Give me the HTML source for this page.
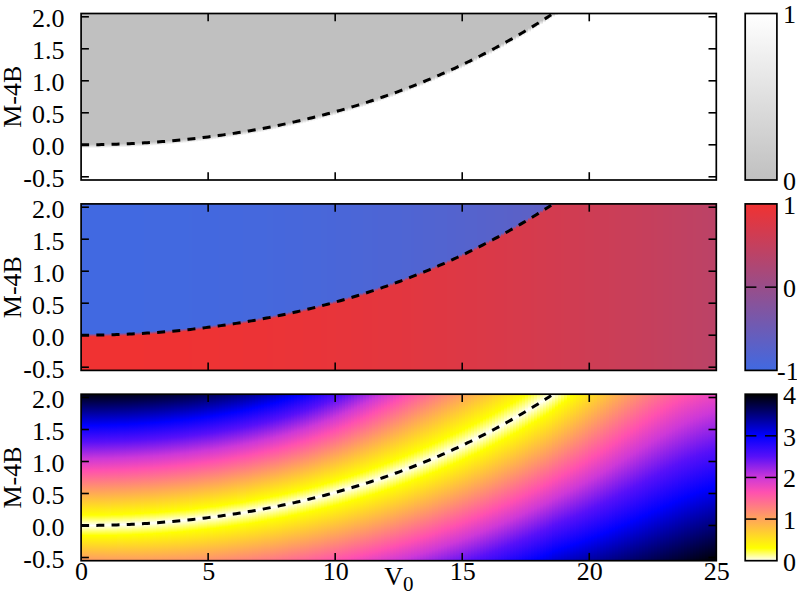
<!DOCTYPE html>
<html><head><meta charset="utf-8"><title>phase diagram</title>
<style>
html,body{margin:0;padding:0;background:#fff}
body{width:797px;height:598px;position:relative;overflow:hidden;font-family:"Liberation Serif",serif}
.hm{position:absolute;overflow:hidden}
.hm i{position:absolute;top:0;height:100%;width:3px;display:block}
svg{position:absolute;left:0;top:0}
svg text{font-family:"Liberation Serif",serif;fill:#000}
</style></head><body>
<div class="hm" style="left:81px;top:14px;width:636px;height:166px"><i style="left:0px;background:linear-gradient(#c0c0c0 0.0px,#c0c0c0 130.3px,#ffffff 134.3px,#ffffff 166.0px)"></i><i style="left:3px;background:linear-gradient(#c0c0c0 0.0px,#c0c0c0 130.3px,#ffffff 134.3px,#ffffff 166.0px)"></i><i style="left:6px;background:linear-gradient(#c0c0c0 0.0px,#c0c0c0 130.3px,#ffffff 134.3px,#ffffff 166.0px)"></i><i style="left:9px;background:linear-gradient(#c0c0c0 0.0px,#c0c0c0 130.2px,#ffffff 134.2px,#ffffff 166.0px)"></i><i style="left:12px;background:linear-gradient(#c0c0c0 0.0px,#c0c0c0 130.2px,#ffffff 134.2px,#ffffff 166.0px)"></i><i style="left:15px;background:linear-gradient(#c0c0c0 0.0px,#c0c0c0 130.2px,#ffffff 134.2px,#ffffff 166.0px)"></i><i style="left:18px;background:linear-gradient(#c0c0c0 0.0px,#c0c0c0 130.1px,#ffffff 134.1px,#ffffff 166.0px)"></i><i style="left:21px;background:linear-gradient(#c0c0c0 0.0px,#c0c0c0 130.1px,#ffffff 134.1px,#ffffff 166.0px)"></i><i style="left:24px;background:linear-gradient(#c0c0c0 0.0px,#c0c0c0 130.0px,#ffffff 134.0px,#ffffff 166.0px)"></i><i style="left:27px;background:linear-gradient(#c0c0c0 0.0px,#c0c0c0 129.9px,#ffffff 133.9px,#ffffff 166.0px)"></i><i style="left:30px;background:linear-gradient(#c0c0c0 0.0px,#c0c0c0 129.8px,#ffffff 133.8px,#ffffff 166.0px)"></i><i style="left:33px;background:linear-gradient(#c0c0c0 0.0px,#c0c0c0 129.7px,#ffffff 133.7px,#ffffff 166.0px)"></i><i style="left:36px;background:linear-gradient(#c0c0c0 0.0px,#c0c0c0 129.6px,#ffffff 133.6px,#ffffff 166.0px)"></i><i style="left:39px;background:linear-gradient(#c0c0c0 0.0px,#c0c0c0 129.5px,#ffffff 133.5px,#ffffff 166.0px)"></i><i style="left:42px;background:linear-gradient(#c0c0c0 0.0px,#c0c0c0 129.4px,#ffffff 133.4px,#ffffff 166.0px)"></i><i style="left:45px;background:linear-gradient(#c0c0c0 0.0px,#c0c0c0 129.3px,#ffffff 133.3px,#ffffff 166.0px)"></i><i style="left:48px;background:linear-gradient(#c0c0c0 0.0px,#c0c0c0 129.1px,#ffffff 133.1px,#ffffff 166.0px)"></i><i style="left:51px;background:linear-gradient(#c0c0c0 0.0px,#c0c0c0 129.0px,#ffffff 133.0px,#ffffff 166.0px)"></i><i style="left:54px;background:linear-gradient(#c0c0c0 0.0px,#c0c0c0 128.8px,#ffffff 132.8px,#ffffff 166.0px)"></i><i style="left:57px;background:linear-gradient(#c0c0c0 0.0px,#c0c0c0 128.7px,#ffffff 132.7px,#ffffff 166.0px)"></i><i style="left:60px;background:linear-gradient(#c0c0c0 0.0px,#c0c0c0 128.5px,#ffffff 132.5px,#ffffff 166.0px)"></i><i style="left:63px;background:linear-gradient(#c0c0c0 0.0px,#c0c0c0 128.3px,#ffffff 132.3px,#ffffff 166.0px)"></i><i style="left:66px;background:linear-gradient(#c0c0c0 0.0px,#c0c0c0 128.1px,#ffffff 132.1px,#ffffff 166.0px)"></i><i style="left:69px;background:linear-gradient(#c0c0c0 0.0px,#c0c0c0 127.9px,#ffffff 131.9px,#ffffff 166.0px)"></i><i style="left:72px;background:linear-gradient(#c0c0c0 0.0px,#c0c0c0 127.7px,#ffffff 131.7px,#ffffff 166.0px)"></i><i style="left:75px;background:linear-gradient(#c0c0c0 0.0px,#c0c0c0 127.5px,#ffffff 131.5px,#ffffff 166.0px)"></i><i style="left:78px;background:linear-gradient(#c0c0c0 0.0px,#c0c0c0 127.3px,#ffffff 131.3px,#ffffff 166.0px)"></i><i style="left:81px;background:linear-gradient(#c0c0c0 0.0px,#c0c0c0 127.0px,#ffffff 131.0px,#ffffff 166.0px)"></i><i style="left:84px;background:linear-gradient(#c0c0c0 0.0px,#c0c0c0 126.8px,#ffffff 130.8px,#ffffff 166.0px)"></i><i style="left:87px;background:linear-gradient(#c0c0c0 0.0px,#c0c0c0 126.5px,#ffffff 130.5px,#ffffff 166.0px)"></i><i style="left:90px;background:linear-gradient(#c0c0c0 0.0px,#c0c0c0 126.3px,#ffffff 130.3px,#ffffff 166.0px)"></i><i style="left:93px;background:linear-gradient(#c0c0c0 0.0px,#c0c0c0 126.0px,#ffffff 130.0px,#ffffff 166.0px)"></i><i style="left:96px;background:linear-gradient(#c0c0c0 0.0px,#c0c0c0 125.7px,#ffffff 129.7px,#ffffff 166.0px)"></i><i style="left:99px;background:linear-gradient(#c0c0c0 0.0px,#c0c0c0 125.4px,#ffffff 129.4px,#ffffff 166.0px)"></i><i style="left:102px;background:linear-gradient(#c0c0c0 0.0px,#c0c0c0 125.1px,#ffffff 129.1px,#ffffff 166.0px)"></i><i style="left:105px;background:linear-gradient(#c0c0c0 0.0px,#c0c0c0 124.8px,#ffffff 128.8px,#ffffff 166.0px)"></i><i style="left:108px;background:linear-gradient(#c0c0c0 0.0px,#c0c0c0 124.5px,#ffffff 128.5px,#ffffff 166.0px)"></i><i style="left:111px;background:linear-gradient(#c0c0c0 0.0px,#c0c0c0 124.1px,#ffffff 128.1px,#ffffff 166.0px)"></i><i style="left:114px;background:linear-gradient(#c0c0c0 0.0px,#c0c0c0 123.8px,#ffffff 127.8px,#ffffff 166.0px)"></i><i style="left:117px;background:linear-gradient(#c0c0c0 0.0px,#c0c0c0 123.5px,#ffffff 127.5px,#ffffff 166.0px)"></i><i style="left:120px;background:linear-gradient(#c0c0c0 0.0px,#c0c0c0 123.1px,#ffffff 127.1px,#ffffff 166.0px)"></i><i style="left:123px;background:linear-gradient(#c0c0c0 0.0px,#c0c0c0 122.7px,#ffffff 126.7px,#ffffff 166.0px)"></i><i style="left:126px;background:linear-gradient(#c0c0c0 0.0px,#c0c0c0 122.4px,#ffffff 126.4px,#ffffff 166.0px)"></i><i style="left:129px;background:linear-gradient(#c0c0c0 0.0px,#c0c0c0 122.0px,#ffffff 126.0px,#ffffff 166.0px)"></i><i style="left:132px;background:linear-gradient(#c0c0c0 0.0px,#c0c0c0 121.6px,#ffffff 125.6px,#ffffff 166.0px)"></i><i style="left:135px;background:linear-gradient(#c0c0c0 0.0px,#c0c0c0 121.2px,#ffffff 125.2px,#ffffff 166.0px)"></i><i style="left:138px;background:linear-gradient(#c0c0c0 0.0px,#c0c0c0 120.8px,#ffffff 124.8px,#ffffff 166.0px)"></i><i style="left:141px;background:linear-gradient(#c0c0c0 0.0px,#c0c0c0 120.4px,#ffffff 124.4px,#ffffff 166.0px)"></i><i style="left:144px;background:linear-gradient(#c0c0c0 0.0px,#c0c0c0 119.9px,#ffffff 123.9px,#ffffff 166.0px)"></i><i style="left:147px;background:linear-gradient(#c0c0c0 0.0px,#c0c0c0 119.5px,#ffffff 123.5px,#ffffff 166.0px)"></i><i style="left:150px;background:linear-gradient(#c0c0c0 0.0px,#c0c0c0 119.0px,#ffffff 123.0px,#ffffff 166.0px)"></i><i style="left:153px;background:linear-gradient(#c0c0c0 0.0px,#c0c0c0 118.6px,#ffffff 122.6px,#ffffff 166.0px)"></i><i style="left:156px;background:linear-gradient(#c0c0c0 0.0px,#c0c0c0 118.1px,#ffffff 122.1px,#ffffff 166.0px)"></i><i style="left:159px;background:linear-gradient(#c0c0c0 0.0px,#c0c0c0 117.6px,#ffffff 121.6px,#ffffff 166.0px)"></i><i style="left:162px;background:linear-gradient(#c0c0c0 0.0px,#c0c0c0 117.1px,#ffffff 121.1px,#ffffff 166.0px)"></i><i style="left:165px;background:linear-gradient(#c0c0c0 0.0px,#c0c0c0 116.6px,#ffffff 120.6px,#ffffff 166.0px)"></i><i style="left:168px;background:linear-gradient(#c0c0c0 0.0px,#c0c0c0 116.1px,#ffffff 120.1px,#ffffff 166.0px)"></i><i style="left:171px;background:linear-gradient(#c0c0c0 0.0px,#c0c0c0 115.6px,#ffffff 119.6px,#ffffff 166.0px)"></i><i style="left:174px;background:linear-gradient(#c0c0c0 0.0px,#c0c0c0 115.1px,#ffffff 119.1px,#ffffff 166.0px)"></i><i style="left:177px;background:linear-gradient(#c0c0c0 0.0px,#c0c0c0 114.5px,#ffffff 118.5px,#ffffff 166.0px)"></i><i style="left:180px;background:linear-gradient(#c0c0c0 0.0px,#c0c0c0 114.0px,#ffffff 118.0px,#ffffff 166.0px)"></i><i style="left:183px;background:linear-gradient(#c0c0c0 0.0px,#c0c0c0 113.4px,#ffffff 117.4px,#ffffff 166.0px)"></i><i style="left:186px;background:linear-gradient(#c0c0c0 0.0px,#c0c0c0 112.8px,#ffffff 116.8px,#ffffff 166.0px)"></i><i style="left:189px;background:linear-gradient(#c0c0c0 0.0px,#c0c0c0 112.2px,#ffffff 116.2px,#ffffff 166.0px)"></i><i style="left:192px;background:linear-gradient(#c0c0c0 0.0px,#c0c0c0 111.6px,#ffffff 115.6px,#ffffff 166.0px)"></i><i style="left:195px;background:linear-gradient(#c0c0c0 0.0px,#c0c0c0 111.0px,#ffffff 115.0px,#ffffff 166.0px)"></i><i style="left:198px;background:linear-gradient(#c0c0c0 0.0px,#c0c0c0 110.4px,#ffffff 114.4px,#ffffff 166.0px)"></i><i style="left:201px;background:linear-gradient(#c0c0c0 0.0px,#c0c0c0 109.8px,#ffffff 113.8px,#ffffff 166.0px)"></i><i style="left:204px;background:linear-gradient(#c0c0c0 0.0px,#c0c0c0 109.2px,#ffffff 113.2px,#ffffff 166.0px)"></i><i style="left:207px;background:linear-gradient(#c0c0c0 0.0px,#c0c0c0 108.5px,#ffffff 112.5px,#ffffff 166.0px)"></i><i style="left:210px;background:linear-gradient(#c0c0c0 0.0px,#c0c0c0 107.8px,#ffffff 111.8px,#ffffff 166.0px)"></i><i style="left:213px;background:linear-gradient(#c0c0c0 0.0px,#c0c0c0 107.2px,#ffffff 111.2px,#ffffff 166.0px)"></i><i style="left:216px;background:linear-gradient(#c0c0c0 0.0px,#c0c0c0 106.5px,#ffffff 110.5px,#ffffff 166.0px)"></i><i style="left:219px;background:linear-gradient(#c0c0c0 0.0px,#c0c0c0 105.8px,#ffffff 109.8px,#ffffff 166.0px)"></i><i style="left:222px;background:linear-gradient(#c0c0c0 0.0px,#c0c0c0 105.1px,#ffffff 109.1px,#ffffff 166.0px)"></i><i style="left:225px;background:linear-gradient(#c0c0c0 0.0px,#c0c0c0 104.4px,#ffffff 108.4px,#ffffff 166.0px)"></i><i style="left:228px;background:linear-gradient(#c0c0c0 0.0px,#c0c0c0 103.7px,#ffffff 107.7px,#ffffff 166.0px)"></i><i style="left:231px;background:linear-gradient(#c0c0c0 0.0px,#c0c0c0 102.9px,#ffffff 106.9px,#ffffff 166.0px)"></i><i style="left:234px;background:linear-gradient(#c0c0c0 0.0px,#c0c0c0 102.2px,#ffffff 106.2px,#ffffff 166.0px)"></i><i style="left:237px;background:linear-gradient(#c0c0c0 0.0px,#c0c0c0 101.4px,#ffffff 105.4px,#ffffff 166.0px)"></i><i style="left:240px;background:linear-gradient(#c0c0c0 0.0px,#c0c0c0 100.6px,#ffffff 104.6px,#ffffff 166.0px)"></i><i style="left:243px;background:linear-gradient(#c0c0c0 0.0px,#c0c0c0 99.9px,#ffffff 103.9px,#ffffff 166.0px)"></i><i style="left:246px;background:linear-gradient(#c0c0c0 0.0px,#c0c0c0 99.1px,#ffffff 103.1px,#ffffff 166.0px)"></i><i style="left:249px;background:linear-gradient(#c0c0c0 0.0px,#c0c0c0 98.2px,#ffffff 102.2px,#ffffff 166.0px)"></i><i style="left:252px;background:linear-gradient(#c0c0c0 0.0px,#c0c0c0 97.4px,#ffffff 101.4px,#ffffff 166.0px)"></i><i style="left:255px;background:linear-gradient(#c0c0c0 0.0px,#c0c0c0 96.6px,#ffffff 100.6px,#ffffff 166.0px)"></i><i style="left:258px;background:linear-gradient(#c0c0c0 0.0px,#c0c0c0 95.8px,#ffffff 99.8px,#ffffff 166.0px)"></i><i style="left:261px;background:linear-gradient(#c0c0c0 0.0px,#c0c0c0 94.9px,#ffffff 98.9px,#ffffff 166.0px)"></i><i style="left:264px;background:linear-gradient(#c0c0c0 0.0px,#c0c0c0 94.0px,#ffffff 98.0px,#ffffff 166.0px)"></i><i style="left:267px;background:linear-gradient(#c0c0c0 0.0px,#c0c0c0 93.1px,#ffffff 97.1px,#ffffff 166.0px)"></i><i style="left:270px;background:linear-gradient(#c0c0c0 0.0px,#c0c0c0 92.3px,#ffffff 96.3px,#ffffff 166.0px)"></i><i style="left:273px;background:linear-gradient(#c0c0c0 0.0px,#c0c0c0 91.3px,#ffffff 95.3px,#ffffff 166.0px)"></i><i style="left:276px;background:linear-gradient(#c0c0c0 0.0px,#c0c0c0 90.4px,#ffffff 94.4px,#ffffff 166.0px)"></i><i style="left:279px;background:linear-gradient(#c0c0c0 0.0px,#c0c0c0 89.5px,#ffffff 93.5px,#ffffff 166.0px)"></i><i style="left:282px;background:linear-gradient(#c0c0c0 0.0px,#c0c0c0 88.6px,#ffffff 92.6px,#ffffff 166.0px)"></i><i style="left:285px;background:linear-gradient(#c0c0c0 0.0px,#c0c0c0 87.6px,#ffffff 91.6px,#ffffff 166.0px)"></i><i style="left:288px;background:linear-gradient(#c0c0c0 0.0px,#c0c0c0 86.6px,#ffffff 90.6px,#ffffff 166.0px)"></i><i style="left:291px;background:linear-gradient(#c0c0c0 0.0px,#c0c0c0 85.6px,#ffffff 89.6px,#ffffff 166.0px)"></i><i style="left:294px;background:linear-gradient(#c0c0c0 0.0px,#c0c0c0 84.6px,#ffffff 88.6px,#ffffff 166.0px)"></i><i style="left:297px;background:linear-gradient(#c0c0c0 0.0px,#c0c0c0 83.6px,#ffffff 87.6px,#ffffff 166.0px)"></i><i style="left:300px;background:linear-gradient(#c0c0c0 0.0px,#c0c0c0 82.6px,#ffffff 86.6px,#ffffff 166.0px)"></i><i style="left:303px;background:linear-gradient(#c0c0c0 0.0px,#c0c0c0 81.6px,#ffffff 85.6px,#ffffff 166.0px)"></i><i style="left:306px;background:linear-gradient(#c0c0c0 0.0px,#c0c0c0 80.5px,#ffffff 84.5px,#ffffff 166.0px)"></i><i style="left:309px;background:linear-gradient(#c0c0c0 0.0px,#c0c0c0 79.5px,#ffffff 83.5px,#ffffff 166.0px)"></i><i style="left:312px;background:linear-gradient(#c0c0c0 0.0px,#c0c0c0 78.4px,#ffffff 82.4px,#ffffff 166.0px)"></i><i style="left:315px;background:linear-gradient(#c0c0c0 0.0px,#c0c0c0 77.3px,#ffffff 81.3px,#ffffff 166.0px)"></i><i style="left:318px;background:linear-gradient(#c0c0c0 0.0px,#c0c0c0 76.2px,#ffffff 80.2px,#ffffff 166.0px)"></i><i style="left:321px;background:linear-gradient(#c0c0c0 0.0px,#c0c0c0 75.1px,#ffffff 79.1px,#ffffff 166.0px)"></i><i style="left:324px;background:linear-gradient(#c0c0c0 0.0px,#c0c0c0 73.9px,#ffffff 77.9px,#ffffff 166.0px)"></i><i style="left:327px;background:linear-gradient(#c0c0c0 0.0px,#c0c0c0 72.8px,#ffffff 76.8px,#ffffff 166.0px)"></i><i style="left:330px;background:linear-gradient(#c0c0c0 0.0px,#c0c0c0 71.6px,#ffffff 75.6px,#ffffff 166.0px)"></i><i style="left:333px;background:linear-gradient(#c0c0c0 0.0px,#c0c0c0 70.5px,#ffffff 74.5px,#ffffff 166.0px)"></i><i style="left:336px;background:linear-gradient(#c0c0c0 0.0px,#c0c0c0 69.3px,#ffffff 73.3px,#ffffff 166.0px)"></i><i style="left:339px;background:linear-gradient(#c0c0c0 0.0px,#c0c0c0 68.1px,#ffffff 72.1px,#ffffff 166.0px)"></i><i style="left:342px;background:linear-gradient(#c0c0c0 0.0px,#c0c0c0 66.8px,#ffffff 70.8px,#ffffff 166.0px)"></i><i style="left:345px;background:linear-gradient(#c0c0c0 0.0px,#c0c0c0 65.6px,#ffffff 69.6px,#ffffff 166.0px)"></i><i style="left:348px;background:linear-gradient(#c0c0c0 0.0px,#c0c0c0 64.4px,#ffffff 68.4px,#ffffff 166.0px)"></i><i style="left:351px;background:linear-gradient(#c0c0c0 0.0px,#c0c0c0 63.1px,#ffffff 67.1px,#ffffff 166.0px)"></i><i style="left:354px;background:linear-gradient(#c0c0c0 0.0px,#c0c0c0 61.8px,#ffffff 65.8px,#ffffff 166.0px)"></i><i style="left:357px;background:linear-gradient(#c0c0c0 0.0px,#c0c0c0 60.5px,#ffffff 64.5px,#ffffff 166.0px)"></i><i style="left:360px;background:linear-gradient(#c0c0c0 0.0px,#c0c0c0 59.2px,#ffffff 63.2px,#ffffff 166.0px)"></i><i style="left:363px;background:linear-gradient(#c0c0c0 0.0px,#c0c0c0 57.9px,#ffffff 61.9px,#ffffff 166.0px)"></i><i style="left:366px;background:linear-gradient(#c0c0c0 0.0px,#c0c0c0 56.5px,#ffffff 60.5px,#ffffff 166.0px)"></i><i style="left:369px;background:linear-gradient(#c0c0c0 0.0px,#c0c0c0 55.2px,#ffffff 59.2px,#ffffff 166.0px)"></i><i style="left:372px;background:linear-gradient(#c0c0c0 0.0px,#c0c0c0 53.8px,#ffffff 57.8px,#ffffff 166.0px)"></i><i style="left:375px;background:linear-gradient(#c0c0c0 0.0px,#c0c0c0 52.4px,#ffffff 56.4px,#ffffff 166.0px)"></i><i style="left:378px;background:linear-gradient(#c0c0c0 0.0px,#c0c0c0 51.0px,#ffffff 55.0px,#ffffff 166.0px)"></i><i style="left:381px;background:linear-gradient(#c0c0c0 0.0px,#c0c0c0 49.6px,#ffffff 53.6px,#ffffff 166.0px)"></i><i style="left:384px;background:linear-gradient(#c0c0c0 0.0px,#c0c0c0 48.2px,#ffffff 52.2px,#ffffff 166.0px)"></i><i style="left:387px;background:linear-gradient(#c0c0c0 0.0px,#c0c0c0 46.7px,#ffffff 50.7px,#ffffff 166.0px)"></i><i style="left:390px;background:linear-gradient(#c0c0c0 0.0px,#c0c0c0 45.2px,#ffffff 49.2px,#ffffff 166.0px)"></i><i style="left:393px;background:linear-gradient(#c0c0c0 0.0px,#c0c0c0 43.7px,#ffffff 47.7px,#ffffff 166.0px)"></i><i style="left:396px;background:linear-gradient(#c0c0c0 0.0px,#c0c0c0 42.2px,#ffffff 46.2px,#ffffff 166.0px)"></i><i style="left:399px;background:linear-gradient(#c0c0c0 0.0px,#c0c0c0 40.7px,#ffffff 44.7px,#ffffff 166.0px)"></i><i style="left:402px;background:linear-gradient(#c0c0c0 0.0px,#c0c0c0 39.2px,#ffffff 43.2px,#ffffff 166.0px)"></i><i style="left:405px;background:linear-gradient(#c0c0c0 0.0px,#c0c0c0 37.6px,#ffffff 41.6px,#ffffff 166.0px)"></i><i style="left:408px;background:linear-gradient(#c0c0c0 0.0px,#c0c0c0 36.1px,#ffffff 40.1px,#ffffff 166.0px)"></i><i style="left:411px;background:linear-gradient(#c0c0c0 0.0px,#c0c0c0 34.5px,#ffffff 38.5px,#ffffff 166.0px)"></i><i style="left:414px;background:linear-gradient(#c0c0c0 0.0px,#c0c0c0 32.9px,#ffffff 36.9px,#ffffff 166.0px)"></i><i style="left:417px;background:linear-gradient(#c0c0c0 0.0px,#c0c0c0 31.2px,#ffffff 35.2px,#ffffff 166.0px)"></i><i style="left:420px;background:linear-gradient(#c0c0c0 0.0px,#c0c0c0 29.6px,#ffffff 33.6px,#ffffff 166.0px)"></i><i style="left:423px;background:linear-gradient(#c0c0c0 0.0px,#c0c0c0 27.9px,#ffffff 31.9px,#ffffff 166.0px)"></i><i style="left:426px;background:linear-gradient(#c0c0c0 0.0px,#c0c0c0 26.2px,#ffffff 30.2px,#ffffff 166.0px)"></i><i style="left:429px;background:linear-gradient(#c0c0c0 0.0px,#c0c0c0 24.6px,#ffffff 28.6px,#ffffff 166.0px)"></i><i style="left:432px;background:linear-gradient(#c0c0c0 0.0px,#c0c0c0 22.8px,#ffffff 26.8px,#ffffff 166.0px)"></i><i style="left:435px;background:linear-gradient(#c0c0c0 0.0px,#c0c0c0 21.1px,#ffffff 25.1px,#ffffff 166.0px)"></i><i style="left:438px;background:linear-gradient(#c0c0c0 0.0px,#c0c0c0 19.3px,#ffffff 23.3px,#ffffff 166.0px)"></i><i style="left:441px;background:linear-gradient(#c0c0c0 0.0px,#c0c0c0 17.6px,#ffffff 21.6px,#ffffff 166.0px)"></i><i style="left:444px;background:linear-gradient(#c0c0c0 0.0px,#c0c0c0 15.8px,#ffffff 19.8px,#ffffff 166.0px)"></i><i style="left:447px;background:linear-gradient(#c0c0c0 0.0px,#c0c0c0 14.0px,#ffffff 18.0px,#ffffff 166.0px)"></i><i style="left:450px;background:linear-gradient(#c0c0c0 0.0px,#c0c0c0 12.1px,#ffffff 16.1px,#ffffff 166.0px)"></i><i style="left:453px;background:linear-gradient(#c0c0c0 0.0px,#c0c0c0 10.3px,#ffffff 14.3px,#ffffff 166.0px)"></i><i style="left:456px;background:linear-gradient(#c0c0c0 0.0px,#c0c0c0 8.4px,#ffffff 12.4px,#ffffff 166.0px)"></i><i style="left:459px;background:linear-gradient(#c0c0c0 0.0px,#c0c0c0 6.5px,#ffffff 10.5px,#ffffff 166.0px)"></i><i style="left:462px;background:linear-gradient(#c0c0c0 0.0px,#c0c0c0 4.6px,#ffffff 8.6px,#ffffff 166.0px)"></i><i style="left:465px;background:linear-gradient(#c0c0c0 0.0px,#c0c0c0 2.7px,#ffffff 6.7px,#ffffff 166.0px)"></i><i style="left:468px;background:linear-gradient(#c0c0c0 0.0px,#c0c0c0 0.8px,#ffffff 4.8px,#ffffff 166.0px)"></i><i style="left:471px;background:linear-gradient(#c0c0c0 0.0px,#c0c0c0 0.0px,#ffffff 2.8px,#ffffff 166.0px)"></i><i style="left:474px;background:linear-gradient(#c0c0c0 0.0px,#c0c0c0 0.0px,#ffffff 0.8px,#ffffff 166.0px)"></i><i style="left:477px;background:linear-gradient(#ffffff 0.0px,#ffffff 166.0px)"></i><i style="left:480px;background:linear-gradient(#ffffff 0.0px,#ffffff 166.0px)"></i><i style="left:483px;background:linear-gradient(#ffffff 0.0px,#ffffff 166.0px)"></i><i style="left:486px;background:linear-gradient(#ffffff 0.0px,#ffffff 166.0px)"></i><i style="left:489px;background:linear-gradient(#ffffff 0.0px,#ffffff 166.0px)"></i><i style="left:492px;background:linear-gradient(#ffffff 0.0px,#ffffff 166.0px)"></i><i style="left:495px;background:linear-gradient(#ffffff 0.0px,#ffffff 166.0px)"></i><i style="left:498px;background:linear-gradient(#ffffff 0.0px,#ffffff 166.0px)"></i><i style="left:501px;background:linear-gradient(#ffffff 0.0px,#ffffff 166.0px)"></i><i style="left:504px;background:linear-gradient(#ffffff 0.0px,#ffffff 166.0px)"></i><i style="left:507px;background:linear-gradient(#ffffff 0.0px,#ffffff 166.0px)"></i><i style="left:510px;background:linear-gradient(#ffffff 0.0px,#ffffff 166.0px)"></i><i style="left:513px;background:linear-gradient(#ffffff 0.0px,#ffffff 166.0px)"></i><i style="left:516px;background:linear-gradient(#ffffff 0.0px,#ffffff 166.0px)"></i><i style="left:519px;background:linear-gradient(#ffffff 0.0px,#ffffff 166.0px)"></i><i style="left:522px;background:linear-gradient(#ffffff 0.0px,#ffffff 166.0px)"></i><i style="left:525px;background:linear-gradient(#ffffff 0.0px,#ffffff 166.0px)"></i><i style="left:528px;background:linear-gradient(#ffffff 0.0px,#ffffff 166.0px)"></i><i style="left:531px;background:linear-gradient(#ffffff 0.0px,#ffffff 166.0px)"></i><i style="left:534px;background:linear-gradient(#ffffff 0.0px,#ffffff 166.0px)"></i><i style="left:537px;background:linear-gradient(#ffffff 0.0px,#ffffff 166.0px)"></i><i style="left:540px;background:linear-gradient(#ffffff 0.0px,#ffffff 166.0px)"></i><i style="left:543px;background:linear-gradient(#ffffff 0.0px,#ffffff 166.0px)"></i><i style="left:546px;background:linear-gradient(#ffffff 0.0px,#ffffff 166.0px)"></i><i style="left:549px;background:linear-gradient(#ffffff 0.0px,#ffffff 166.0px)"></i><i style="left:552px;background:linear-gradient(#ffffff 0.0px,#ffffff 166.0px)"></i><i style="left:555px;background:linear-gradient(#ffffff 0.0px,#ffffff 166.0px)"></i><i style="left:558px;background:linear-gradient(#ffffff 0.0px,#ffffff 166.0px)"></i><i style="left:561px;background:linear-gradient(#ffffff 0.0px,#ffffff 166.0px)"></i><i style="left:564px;background:linear-gradient(#ffffff 0.0px,#ffffff 166.0px)"></i><i style="left:567px;background:linear-gradient(#ffffff 0.0px,#ffffff 166.0px)"></i><i style="left:570px;background:linear-gradient(#ffffff 0.0px,#ffffff 166.0px)"></i><i style="left:573px;background:linear-gradient(#ffffff 0.0px,#ffffff 166.0px)"></i><i style="left:576px;background:linear-gradient(#ffffff 0.0px,#ffffff 166.0px)"></i><i style="left:579px;background:linear-gradient(#ffffff 0.0px,#ffffff 166.0px)"></i><i style="left:582px;background:linear-gradient(#ffffff 0.0px,#ffffff 166.0px)"></i><i style="left:585px;background:linear-gradient(#ffffff 0.0px,#ffffff 166.0px)"></i><i style="left:588px;background:linear-gradient(#ffffff 0.0px,#ffffff 166.0px)"></i><i style="left:591px;background:linear-gradient(#ffffff 0.0px,#ffffff 166.0px)"></i><i style="left:594px;background:linear-gradient(#ffffff 0.0px,#ffffff 166.0px)"></i><i style="left:597px;background:linear-gradient(#ffffff 0.0px,#ffffff 166.0px)"></i><i style="left:600px;background:linear-gradient(#ffffff 0.0px,#ffffff 166.0px)"></i><i style="left:603px;background:linear-gradient(#ffffff 0.0px,#ffffff 166.0px)"></i><i style="left:606px;background:linear-gradient(#ffffff 0.0px,#ffffff 166.0px)"></i><i style="left:609px;background:linear-gradient(#ffffff 0.0px,#ffffff 166.0px)"></i><i style="left:612px;background:linear-gradient(#ffffff 0.0px,#ffffff 166.0px)"></i><i style="left:615px;background:linear-gradient(#ffffff 0.0px,#ffffff 166.0px)"></i><i style="left:618px;background:linear-gradient(#ffffff 0.0px,#ffffff 166.0px)"></i><i style="left:621px;background:linear-gradient(#ffffff 0.0px,#ffffff 166.0px)"></i><i style="left:624px;background:linear-gradient(#ffffff 0.0px,#ffffff 166.0px)"></i><i style="left:627px;background:linear-gradient(#ffffff 0.0px,#ffffff 166.0px)"></i><i style="left:630px;background:linear-gradient(#ffffff 0.0px,#ffffff 166.0px)"></i><i style="left:633px;background:linear-gradient(#ffffff 0.0px,#ffffff 166.0px)"></i></div><div style="position:absolute;left:745px;top:14px;width:32px;height:166px;background:linear-gradient(#ffffff,#c0c0c0)"></div>
<div class="hm" style="left:81px;top:204px;width:636px;height:166px"><i style="left:0px;background:linear-gradient(#4169e1 0.0px,#4169e1 129.7px,#f03232 132.7px,#f03232 166.0px)"></i><i style="left:3px;background:linear-gradient(#4169e1 0.0px,#4169e1 129.7px,#f03232 132.7px,#f03232 166.0px)"></i><i style="left:6px;background:linear-gradient(#4169e1 0.0px,#4169e1 129.7px,#f03232 132.7px,#f03232 166.0px)"></i><i style="left:9px;background:linear-gradient(#4169e1 0.0px,#4169e1 129.6px,#f03232 132.6px,#f03232 166.0px)"></i><i style="left:12px;background:linear-gradient(#4169e1 0.0px,#4169e1 129.6px,#f03232 132.6px,#f03232 166.0px)"></i><i style="left:15px;background:linear-gradient(#4169e1 0.0px,#4169e1 129.6px,#f03232 132.6px,#f03232 166.0px)"></i><i style="left:18px;background:linear-gradient(#4169e1 0.0px,#4169e1 129.5px,#f03232 132.5px,#f03232 166.0px)"></i><i style="left:21px;background:linear-gradient(#4169e1 0.0px,#4169e1 129.5px,#f03232 132.5px,#f03232 166.0px)"></i><i style="left:24px;background:linear-gradient(#4169e1 0.0px,#4169e1 129.4px,#f03232 132.4px,#f03232 166.0px)"></i><i style="left:27px;background:linear-gradient(#4169e1 0.0px,#4169e1 129.3px,#f03232 132.3px,#f03232 166.0px)"></i><i style="left:30px;background:linear-gradient(#4169e1 0.0px,#4169e1 129.2px,#f03232 132.2px,#f03232 166.0px)"></i><i style="left:33px;background:linear-gradient(#4169e1 0.0px,#4169e1 129.1px,#f03232 132.1px,#f03232 166.0px)"></i><i style="left:36px;background:linear-gradient(#4169e1 0.0px,#4169e1 129.0px,#f03232 132.0px,#f03232 166.0px)"></i><i style="left:39px;background:linear-gradient(#4169e1 0.0px,#4169e1 128.9px,#f03232 131.9px,#f03232 166.0px)"></i><i style="left:42px;background:linear-gradient(#4169e1 0.0px,#4169e1 128.8px,#f03232 131.8px,#f03232 166.0px)"></i><i style="left:45px;background:linear-gradient(#4169e1 0.0px,#4169e1 128.7px,#f03232 131.7px,#f03232 166.0px)"></i><i style="left:48px;background:linear-gradient(#4169e1 0.0px,#4169e1 128.5px,#f03232 131.5px,#f03232 166.0px)"></i><i style="left:51px;background:linear-gradient(#4169e1 0.0px,#4169e1 128.4px,#f03232 131.4px,#f03232 166.0px)"></i><i style="left:54px;background:linear-gradient(#4169e1 0.0px,#4169e1 128.2px,#f03232 131.2px,#f03232 166.0px)"></i><i style="left:57px;background:linear-gradient(#4169e1 0.0px,#4169e1 128.1px,#f03232 131.1px,#f03232 166.0px)"></i><i style="left:60px;background:linear-gradient(#4169e1 0.0px,#4169e1 127.9px,#f03232 130.9px,#f03232 166.0px)"></i><i style="left:63px;background:linear-gradient(#4269e0 0.0px,#4269e0 127.7px,#ef3233 130.7px,#ef3233 166.0px)"></i><i style="left:66px;background:linear-gradient(#4269e0 0.0px,#4269e0 127.5px,#ef3233 130.5px,#ef3233 166.0px)"></i><i style="left:69px;background:linear-gradient(#4269e0 0.0px,#4269e0 127.3px,#ef3233 130.3px,#ef3233 166.0px)"></i><i style="left:72px;background:linear-gradient(#4269e0 0.0px,#4269e0 127.1px,#ef3233 130.1px,#ef3233 166.0px)"></i><i style="left:75px;background:linear-gradient(#4269e0 0.0px,#4269e0 126.9px,#ef3233 129.9px,#ef3233 166.0px)"></i><i style="left:78px;background:linear-gradient(#4269e0 0.0px,#4269e0 126.7px,#ef3233 129.7px,#ef3233 166.0px)"></i><i style="left:81px;background:linear-gradient(#4269e0 0.0px,#4269e0 126.4px,#ef3233 129.4px,#ef3233 166.0px)"></i><i style="left:84px;background:linear-gradient(#4269e0 0.0px,#4269e0 126.2px,#ef3233 129.2px,#ef3233 166.0px)"></i><i style="left:87px;background:linear-gradient(#4269e0 0.0px,#4269e0 125.9px,#ef3233 128.9px,#ef3233 166.0px)"></i><i style="left:90px;background:linear-gradient(#4269e0 0.0px,#4269e0 125.7px,#ef3233 128.7px,#ef3233 166.0px)"></i><i style="left:93px;background:linear-gradient(#4269e0 0.0px,#4269e0 125.4px,#ef3233 128.4px,#ef3233 166.0px)"></i><i style="left:96px;background:linear-gradient(#4269e0 0.0px,#4269e0 125.1px,#ef3233 128.1px,#ef3233 166.0px)"></i><i style="left:99px;background:linear-gradient(#4269e0 0.0px,#4269e0 124.8px,#ef3233 127.8px,#ef3233 166.0px)"></i><i style="left:102px;background:linear-gradient(#4269e0 0.0px,#4269e0 124.5px,#ef3233 127.5px,#ef3233 166.0px)"></i><i style="left:105px;background:linear-gradient(#4269e0 0.0px,#4269e0 124.2px,#ef3233 127.2px,#ef3233 166.0px)"></i><i style="left:108px;background:linear-gradient(#4369df 0.0px,#4369df 123.9px,#ee3234 126.9px,#ee3234 166.0px)"></i><i style="left:111px;background:linear-gradient(#4368df 0.0px,#4368df 123.5px,#ee3334 126.5px,#ee3334 166.0px)"></i><i style="left:114px;background:linear-gradient(#4368df 0.0px,#4368df 123.2px,#ee3334 126.2px,#ee3334 166.0px)"></i><i style="left:117px;background:linear-gradient(#4368df 0.0px,#4368df 122.9px,#ee3334 125.9px,#ee3334 166.0px)"></i><i style="left:120px;background:linear-gradient(#4368df 0.0px,#4368df 122.5px,#ee3334 125.5px,#ee3334 166.0px)"></i><i style="left:123px;background:linear-gradient(#4368df 0.0px,#4368df 122.1px,#ee3334 125.1px,#ee3334 166.0px)"></i><i style="left:126px;background:linear-gradient(#4368df 0.0px,#4368df 121.8px,#ee3334 124.8px,#ee3334 166.0px)"></i><i style="left:129px;background:linear-gradient(#4368df 0.0px,#4368df 121.4px,#ee3334 124.4px,#ee3334 166.0px)"></i><i style="left:132px;background:linear-gradient(#4368df 0.0px,#4368df 121.0px,#ee3334 124.0px,#ee3334 166.0px)"></i><i style="left:135px;background:linear-gradient(#4368df 0.0px,#4368df 120.6px,#ee3334 123.6px,#ee3334 166.0px)"></i><i style="left:138px;background:linear-gradient(#4468de 0.0px,#4468de 120.2px,#ed3335 123.2px,#ed3335 166.0px)"></i><i style="left:141px;background:linear-gradient(#4468de 0.0px,#4468de 119.8px,#ed3335 122.8px,#ed3335 166.0px)"></i><i style="left:144px;background:linear-gradient(#4468de 0.0px,#4468de 119.3px,#ed3335 122.3px,#ed3335 166.0px)"></i><i style="left:147px;background:linear-gradient(#4468de 0.0px,#4468de 118.9px,#ed3335 121.9px,#ed3335 166.0px)"></i><i style="left:150px;background:linear-gradient(#4468de 0.0px,#4468de 118.4px,#ed3335 121.4px,#ed3335 166.0px)"></i><i style="left:153px;background:linear-gradient(#4468de 0.0px,#4468de 118.0px,#ed3335 121.0px,#ed3335 166.0px)"></i><i style="left:156px;background:linear-gradient(#4468de 0.0px,#4468de 117.5px,#ed3335 120.5px,#ed3335 166.0px)"></i><i style="left:159px;background:linear-gradient(#4468de 0.0px,#4468de 117.0px,#ed3335 120.0px,#ed3335 166.0px)"></i><i style="left:162px;background:linear-gradient(#4568dd 0.0px,#4568dd 116.5px,#ec3336 119.5px,#ec3336 166.0px)"></i><i style="left:165px;background:linear-gradient(#4568dd 0.0px,#4568dd 116.0px,#ec3336 119.0px,#ec3336 166.0px)"></i><i style="left:168px;background:linear-gradient(#4568dd 0.0px,#4568dd 115.5px,#ec3336 118.5px,#ec3336 166.0px)"></i><i style="left:171px;background:linear-gradient(#4568dd 0.0px,#4568dd 115.0px,#ec3336 118.0px,#ec3336 166.0px)"></i><i style="left:174px;background:linear-gradient(#4568dd 0.0px,#4568dd 114.5px,#ec3336 117.5px,#ec3336 166.0px)"></i><i style="left:177px;background:linear-gradient(#4568dd 0.0px,#4568dd 113.9px,#ec3336 116.9px,#ec3336 166.0px)"></i><i style="left:180px;background:linear-gradient(#4568dd 0.0px,#4568dd 113.4px,#ec3336 116.4px,#ec3336 166.0px)"></i><i style="left:183px;background:linear-gradient(#4568dd 0.0px,#4568dd 112.8px,#ec3336 115.8px,#ec3336 166.0px)"></i><i style="left:186px;background:linear-gradient(#4668dc 0.0px,#4668dc 112.2px,#eb3337 115.2px,#eb3337 166.0px)"></i><i style="left:189px;background:linear-gradient(#4668dc 0.0px,#4668dc 111.6px,#eb3337 114.6px,#eb3337 166.0px)"></i><i style="left:192px;background:linear-gradient(#4667dc 0.0px,#4667dc 111.0px,#eb3437 114.0px,#eb3437 166.0px)"></i><i style="left:195px;background:linear-gradient(#4667dc 0.0px,#4667dc 110.4px,#eb3437 113.4px,#eb3437 166.0px)"></i><i style="left:198px;background:linear-gradient(#4667dc 0.0px,#4667dc 109.8px,#eb3437 112.8px,#eb3437 166.0px)"></i><i style="left:201px;background:linear-gradient(#4667dc 0.0px,#4667dc 109.2px,#eb3437 112.2px,#eb3437 166.0px)"></i><i style="left:204px;background:linear-gradient(#4767db 0.0px,#4767db 108.6px,#ea3438 111.6px,#ea3438 166.0px)"></i><i style="left:207px;background:linear-gradient(#4767db 0.0px,#4767db 107.9px,#ea3438 110.9px,#ea3438 166.0px)"></i><i style="left:210px;background:linear-gradient(#4767db 0.0px,#4767db 107.2px,#ea3438 110.2px,#ea3438 166.0px)"></i><i style="left:213px;background:linear-gradient(#4767db 0.0px,#4767db 106.6px,#ea3438 109.6px,#ea3438 166.0px)"></i><i style="left:216px;background:linear-gradient(#4767db 0.0px,#4767db 105.9px,#ea3438 108.9px,#ea3438 166.0px)"></i><i style="left:219px;background:linear-gradient(#4767db 0.0px,#4767db 105.2px,#ea3438 108.2px,#ea3438 166.0px)"></i><i style="left:222px;background:linear-gradient(#4867da 0.0px,#4867da 104.5px,#e93439 107.5px,#e93439 166.0px)"></i><i style="left:225px;background:linear-gradient(#4867da 0.0px,#4867da 103.8px,#e93439 106.8px,#e93439 166.0px)"></i><i style="left:228px;background:linear-gradient(#4867da 0.0px,#4867da 103.1px,#e93439 106.1px,#e93439 166.0px)"></i><i style="left:231px;background:linear-gradient(#4867da 0.0px,#4867da 102.3px,#e93439 105.3px,#e93439 166.0px)"></i><i style="left:234px;background:linear-gradient(#4867da 0.0px,#4867da 101.6px,#e93439 104.6px,#e93439 166.0px)"></i><i style="left:237px;background:linear-gradient(#4867da 0.0px,#4867da 100.8px,#e93439 103.8px,#e93439 166.0px)"></i><i style="left:240px;background:linear-gradient(#4967d9 0.0px,#4967d9 100.0px,#e8343a 103.0px,#e8343a 166.0px)"></i><i style="left:243px;background:linear-gradient(#4967d9 0.0px,#4967d9 99.3px,#e8343a 102.3px,#e8343a 166.0px)"></i><i style="left:246px;background:linear-gradient(#4966d9 0.0px,#4966d9 98.5px,#e8353a 101.5px,#e8353a 166.0px)"></i><i style="left:249px;background:linear-gradient(#4966d9 0.0px,#4966d9 97.6px,#e8353a 100.6px,#e8353a 166.0px)"></i><i style="left:252px;background:linear-gradient(#4966d9 0.0px,#4966d9 96.8px,#e8353a 99.8px,#e8353a 166.0px)"></i><i style="left:255px;background:linear-gradient(#4a66d8 0.0px,#4a66d8 96.0px,#e7353b 99.0px,#e7353b 166.0px)"></i><i style="left:258px;background:linear-gradient(#4a66d8 0.0px,#4a66d8 95.2px,#e7353b 98.2px,#e7353b 166.0px)"></i><i style="left:261px;background:linear-gradient(#4a66d8 0.0px,#4a66d8 94.3px,#e7353b 97.3px,#e7353b 166.0px)"></i><i style="left:264px;background:linear-gradient(#4a66d8 0.0px,#4a66d8 93.4px,#e7353b 96.4px,#e7353b 166.0px)"></i><i style="left:267px;background:linear-gradient(#4a66d8 0.0px,#4a66d8 92.5px,#e7353b 95.5px,#e7353b 166.0px)"></i><i style="left:270px;background:linear-gradient(#4b66d7 0.0px,#4b66d7 91.7px,#e6353c 94.7px,#e6353c 166.0px)"></i><i style="left:273px;background:linear-gradient(#4b66d7 0.0px,#4b66d7 90.7px,#e6353c 93.7px,#e6353c 166.0px)"></i><i style="left:276px;background:linear-gradient(#4b66d7 0.0px,#4b66d7 89.8px,#e6353c 92.8px,#e6353c 166.0px)"></i><i style="left:279px;background:linear-gradient(#4b66d7 0.0px,#4b66d7 88.9px,#e6353c 91.9px,#e6353c 166.0px)"></i><i style="left:282px;background:linear-gradient(#4c66d6 0.0px,#4c66d6 88.0px,#e5353d 91.0px,#e5353d 166.0px)"></i><i style="left:285px;background:linear-gradient(#4c66d6 0.0px,#4c66d6 87.0px,#e5353d 90.0px,#e5353d 166.0px)"></i><i style="left:288px;background:linear-gradient(#4c66d6 0.0px,#4c66d6 86.0px,#e5353d 89.0px,#e5353d 166.0px)"></i><i style="left:291px;background:linear-gradient(#4c65d6 0.0px,#4c65d6 85.0px,#e5363d 88.0px,#e5363d 166.0px)"></i><i style="left:294px;background:linear-gradient(#4c65d6 0.0px,#4c65d6 84.0px,#e5363d 87.0px,#e5363d 166.0px)"></i><i style="left:297px;background:linear-gradient(#4d65d5 0.0px,#4d65d5 83.0px,#e4363e 86.0px,#e4363e 166.0px)"></i><i style="left:300px;background:linear-gradient(#4d65d5 0.0px,#4d65d5 82.0px,#e4363e 85.0px,#e4363e 166.0px)"></i><i style="left:303px;background:linear-gradient(#4d65d5 0.0px,#4d65d5 81.0px,#e4363e 84.0px,#e4363e 166.0px)"></i><i style="left:306px;background:linear-gradient(#4d65d5 0.0px,#4d65d5 79.9px,#e4363e 82.9px,#e4363e 166.0px)"></i><i style="left:309px;background:linear-gradient(#4e65d4 0.0px,#4e65d4 78.9px,#e3363f 81.9px,#e3363f 166.0px)"></i><i style="left:312px;background:linear-gradient(#4e65d4 0.0px,#4e65d4 77.8px,#e3363f 80.8px,#e3363f 166.0px)"></i><i style="left:315px;background:linear-gradient(#4e65d4 0.0px,#4e65d4 76.7px,#e3363f 79.7px,#e3363f 166.0px)"></i><i style="left:318px;background:linear-gradient(#4e65d4 0.0px,#4e65d4 75.6px,#e3363f 78.6px,#e3363f 166.0px)"></i><i style="left:321px;background:linear-gradient(#4f65d3 0.0px,#4f65d3 74.5px,#e23640 77.5px,#e23640 166.0px)"></i><i style="left:324px;background:linear-gradient(#4f65d3 0.0px,#4f65d3 73.3px,#e23640 76.3px,#e23640 166.0px)"></i><i style="left:327px;background:linear-gradient(#4f65d3 0.0px,#4f65d3 72.2px,#e23640 75.2px,#e23640 166.0px)"></i><i style="left:330px;background:linear-gradient(#4f64d3 0.0px,#4f64d3 71.0px,#e23740 74.0px,#e23740 166.0px)"></i><i style="left:333px;background:linear-gradient(#5064d2 0.0px,#5064d2 69.9px,#e13741 72.9px,#e13741 166.0px)"></i><i style="left:336px;background:linear-gradient(#5064d2 0.0px,#5064d2 68.7px,#e13741 71.7px,#e13741 166.0px)"></i><i style="left:339px;background:linear-gradient(#5064d2 0.0px,#5064d2 67.5px,#e13741 70.5px,#e13741 166.0px)"></i><i style="left:342px;background:linear-gradient(#5164d1 0.0px,#5164d1 66.2px,#e03742 69.2px,#e03742 166.0px)"></i><i style="left:345px;background:linear-gradient(#5164d1 0.0px,#5164d1 65.0px,#e03742 68.0px,#e03742 166.0px)"></i><i style="left:348px;background:linear-gradient(#5164d1 0.0px,#5164d1 63.8px,#e03742 66.8px,#e03742 166.0px)"></i><i style="left:351px;background:linear-gradient(#5164d1 0.0px,#5164d1 62.5px,#e03742 65.5px,#e03742 166.0px)"></i><i style="left:354px;background:linear-gradient(#5264d0 0.0px,#5264d0 61.2px,#df3743 64.2px,#df3743 166.0px)"></i><i style="left:357px;background:linear-gradient(#5264d0 0.0px,#5264d0 59.9px,#df3743 62.9px,#df3743 166.0px)"></i><i style="left:360px;background:linear-gradient(#5264d0 0.0px,#5264d0 58.6px,#df3743 61.6px,#df3743 166.0px)"></i><i style="left:363px;background:linear-gradient(#5264d0 0.0px,#5264d0 57.3px,#df3743 60.3px,#df3743 166.0px)"></i><i style="left:366px;background:linear-gradient(#5363cf 0.0px,#5363cf 55.9px,#de3844 58.9px,#de3844 166.0px)"></i><i style="left:369px;background:linear-gradient(#5363cf 0.0px,#5363cf 54.6px,#de3844 57.6px,#de3844 166.0px)"></i><i style="left:372px;background:linear-gradient(#5363cf 0.0px,#5363cf 53.2px,#de3844 56.2px,#de3844 166.0px)"></i><i style="left:375px;background:linear-gradient(#5463ce 0.0px,#5463ce 51.8px,#dd3845 54.8px,#dd3845 166.0px)"></i><i style="left:378px;background:linear-gradient(#5463ce 0.0px,#5463ce 50.4px,#dd3845 53.4px,#dd3845 166.0px)"></i><i style="left:381px;background:linear-gradient(#5463ce 0.0px,#5463ce 49.0px,#dd3845 52.0px,#dd3845 166.0px)"></i><i style="left:384px;background:linear-gradient(#5563cd 0.0px,#5563cd 47.6px,#dc3846 50.6px,#dc3846 166.0px)"></i><i style="left:387px;background:linear-gradient(#5563cd 0.0px,#5563cd 46.1px,#dc3846 49.1px,#dc3846 166.0px)"></i><i style="left:390px;background:linear-gradient(#5563cd 0.0px,#5563cd 44.6px,#dc3846 47.6px,#dc3846 166.0px)"></i><i style="left:393px;background:linear-gradient(#5563cd 0.0px,#5563cd 43.1px,#dc3846 46.1px,#dc3846 166.0px)"></i><i style="left:396px;background:linear-gradient(#5662cc 0.0px,#5662cc 41.6px,#db3947 44.6px,#db3947 166.0px)"></i><i style="left:399px;background:linear-gradient(#5662cc 0.0px,#5662cc 40.1px,#db3947 43.1px,#db3947 166.0px)"></i><i style="left:402px;background:linear-gradient(#5662cc 0.0px,#5662cc 38.6px,#db3947 41.6px,#db3947 166.0px)"></i><i style="left:405px;background:linear-gradient(#5762cb 0.0px,#5762cb 37.0px,#da3948 40.0px,#da3948 166.0px)"></i><i style="left:408px;background:linear-gradient(#5762cb 0.0px,#5762cb 35.5px,#da3948 38.5px,#da3948 166.0px)"></i><i style="left:411px;background:linear-gradient(#5762cb 0.0px,#5762cb 33.9px,#da3948 36.9px,#da3948 166.0px)"></i><i style="left:414px;background:linear-gradient(#5862ca 0.0px,#5862ca 32.3px,#d93949 35.3px,#d93949 166.0px)"></i><i style="left:417px;background:linear-gradient(#5862ca 0.0px,#5862ca 30.6px,#d93949 33.6px,#d93949 166.0px)"></i><i style="left:420px;background:linear-gradient(#5862ca 0.0px,#5862ca 29.0px,#d93949 32.0px,#d93949 166.0px)"></i><i style="left:423px;background:linear-gradient(#5962c9 0.0px,#5962c9 27.3px,#d8394a 30.3px,#d8394a 166.0px)"></i><i style="left:426px;background:linear-gradient(#5961c9 0.0px,#5961c9 25.6px,#d83a4a 28.6px,#d83a4a 166.0px)"></i><i style="left:429px;background:linear-gradient(#5961c9 0.0px,#5961c9 24.0px,#d83a4a 27.0px,#d83a4a 166.0px)"></i><i style="left:432px;background:linear-gradient(#5a61c8 0.0px,#5a61c8 22.2px,#d73a4b 25.2px,#d73a4b 166.0px)"></i><i style="left:435px;background:linear-gradient(#5a61c8 0.0px,#5a61c8 20.5px,#d73a4b 23.5px,#d73a4b 166.0px)"></i><i style="left:438px;background:linear-gradient(#5a61c8 0.0px,#5a61c8 18.7px,#d73a4b 21.7px,#d73a4b 166.0px)"></i><i style="left:441px;background:linear-gradient(#5b61c7 0.0px,#5b61c7 17.0px,#d63a4c 20.0px,#d63a4c 166.0px)"></i><i style="left:444px;background:linear-gradient(#5b61c7 0.0px,#5b61c7 15.2px,#d63a4c 18.2px,#d63a4c 166.0px)"></i><i style="left:447px;background:linear-gradient(#5b61c7 0.0px,#5b61c7 13.4px,#d63a4c 16.4px,#d63a4c 166.0px)"></i><i style="left:450px;background:linear-gradient(#5c61c6 0.0px,#5c61c6 11.5px,#d53a4d 14.5px,#d53a4d 166.0px)"></i><i style="left:453px;background:linear-gradient(#5c60c6 0.0px,#5c60c6 9.7px,#d53b4d 12.7px,#d53b4d 166.0px)"></i><i style="left:456px;background:linear-gradient(#5d60c5 0.0px,#5d60c5 7.8px,#d43b4e 10.8px,#d43b4e 166.0px)"></i><i style="left:459px;background:linear-gradient(#5d60c5 0.0px,#5d60c5 5.9px,#d43b4e 8.9px,#d43b4e 166.0px)"></i><i style="left:462px;background:linear-gradient(#5d60c5 0.0px,#5d60c5 4.0px,#d43b4e 7.0px,#d43b4e 166.0px)"></i><i style="left:465px;background:linear-gradient(#5e60c4 0.0px,#5e60c4 2.1px,#d33b4f 5.1px,#d33b4f 166.0px)"></i><i style="left:468px;background:linear-gradient(#5e60c4 0.0px,#5e60c4 0.2px,#d33b4f 3.2px,#d33b4f 166.0px)"></i><i style="left:471px;background:linear-gradient(#5e60c4 0.0px,#5e60c4 0.0px,#d33b4f 1.2px,#d33b4f 166.0px)"></i><i style="left:474px;background:linear-gradient(#5f60c3 0.0px,#5f60c3 0.0px,#d23b50 -0.8px,#d23b50 166.0px)"></i><i style="left:477px;background:linear-gradient(#d23b50 0.0px,#d23b50 166.0px)"></i><i style="left:480px;background:linear-gradient(#d23c50 0.0px,#d23c50 166.0px)"></i><i style="left:483px;background:linear-gradient(#d13c51 0.0px,#d13c51 166.0px)"></i><i style="left:486px;background:linear-gradient(#d13c51 0.0px,#d13c51 166.0px)"></i><i style="left:489px;background:linear-gradient(#d03c52 0.0px,#d03c52 166.0px)"></i><i style="left:492px;background:linear-gradient(#d03c52 0.0px,#d03c52 166.0px)"></i><i style="left:495px;background:linear-gradient(#d03c52 0.0px,#d03c52 166.0px)"></i><i style="left:498px;background:linear-gradient(#cf3c53 0.0px,#cf3c53 166.0px)"></i><i style="left:501px;background:linear-gradient(#cf3c53 0.0px,#cf3c53 166.0px)"></i><i style="left:504px;background:linear-gradient(#ce3d54 0.0px,#ce3d54 166.0px)"></i><i style="left:507px;background:linear-gradient(#ce3d54 0.0px,#ce3d54 166.0px)"></i><i style="left:510px;background:linear-gradient(#ce3d54 0.0px,#ce3d54 166.0px)"></i><i style="left:513px;background:linear-gradient(#cd3d55 0.0px,#cd3d55 166.0px)"></i><i style="left:516px;background:linear-gradient(#cd3d55 0.0px,#cd3d55 166.0px)"></i><i style="left:519px;background:linear-gradient(#cc3d56 0.0px,#cc3d56 166.0px)"></i><i style="left:522px;background:linear-gradient(#cc3d56 0.0px,#cc3d56 166.0px)"></i><i style="left:525px;background:linear-gradient(#cc3d56 0.0px,#cc3d56 166.0px)"></i><i style="left:528px;background:linear-gradient(#cb3e57 0.0px,#cb3e57 166.0px)"></i><i style="left:531px;background:linear-gradient(#cb3e57 0.0px,#cb3e57 166.0px)"></i><i style="left:534px;background:linear-gradient(#ca3e58 0.0px,#ca3e58 166.0px)"></i><i style="left:537px;background:linear-gradient(#ca3e58 0.0px,#ca3e58 166.0px)"></i><i style="left:540px;background:linear-gradient(#c93e59 0.0px,#c93e59 166.0px)"></i><i style="left:543px;background:linear-gradient(#c93e59 0.0px,#c93e59 166.0px)"></i><i style="left:546px;background:linear-gradient(#c93e59 0.0px,#c93e59 166.0px)"></i><i style="left:549px;background:linear-gradient(#c83f5a 0.0px,#c83f5a 166.0px)"></i><i style="left:552px;background:linear-gradient(#c83f5a 0.0px,#c83f5a 166.0px)"></i><i style="left:555px;background:linear-gradient(#c73f5b 0.0px,#c73f5b 166.0px)"></i><i style="left:558px;background:linear-gradient(#c73f5b 0.0px,#c73f5b 166.0px)"></i><i style="left:561px;background:linear-gradient(#c63f5c 0.0px,#c63f5c 166.0px)"></i><i style="left:564px;background:linear-gradient(#c63f5c 0.0px,#c63f5c 166.0px)"></i><i style="left:567px;background:linear-gradient(#c63f5c 0.0px,#c63f5c 166.0px)"></i><i style="left:570px;background:linear-gradient(#c53f5d 0.0px,#c53f5d 166.0px)"></i><i style="left:573px;background:linear-gradient(#c5405d 0.0px,#c5405d 166.0px)"></i><i style="left:576px;background:linear-gradient(#c4405e 0.0px,#c4405e 166.0px)"></i><i style="left:579px;background:linear-gradient(#c4405e 0.0px,#c4405e 166.0px)"></i><i style="left:582px;background:linear-gradient(#c3405f 0.0px,#c3405f 166.0px)"></i><i style="left:585px;background:linear-gradient(#c3405f 0.0px,#c3405f 166.0px)"></i><i style="left:588px;background:linear-gradient(#c24060 0.0px,#c24060 166.0px)"></i><i style="left:591px;background:linear-gradient(#c24160 0.0px,#c24160 166.0px)"></i><i style="left:594px;background:linear-gradient(#c14161 0.0px,#c14161 166.0px)"></i><i style="left:597px;background:linear-gradient(#c14161 0.0px,#c14161 166.0px)"></i><i style="left:600px;background:linear-gradient(#c04162 0.0px,#c04162 166.0px)"></i><i style="left:603px;background:linear-gradient(#c04162 0.0px,#c04162 166.0px)"></i><i style="left:606px;background:linear-gradient(#bf4163 0.0px,#bf4163 166.0px)"></i><i style="left:609px;background:linear-gradient(#bf4163 0.0px,#bf4163 166.0px)"></i><i style="left:612px;background:linear-gradient(#bf4263 0.0px,#bf4263 166.0px)"></i><i style="left:615px;background:linear-gradient(#be4264 0.0px,#be4264 166.0px)"></i><i style="left:618px;background:linear-gradient(#be4264 0.0px,#be4264 166.0px)"></i><i style="left:621px;background:linear-gradient(#bd4265 0.0px,#bd4265 166.0px)"></i><i style="left:624px;background:linear-gradient(#bd4265 0.0px,#bd4265 166.0px)"></i><i style="left:627px;background:linear-gradient(#bc4266 0.0px,#bc4266 166.0px)"></i><i style="left:630px;background:linear-gradient(#bc4266 0.0px,#bc4266 166.0px)"></i><i style="left:633px;background:linear-gradient(#bb4367 0.0px,#bb4367 166.0px)"></i></div><div style="position:absolute;left:745px;top:204px;width:32px;height:166px;background:linear-gradient(#f03232,#4169e1)"></div>
<div class="hm" style="left:81px;top:394px;width:636px;height:167px"><i style="left:0px;background:linear-gradient(#00000f 0.0px,#000085 15.5px,#0000ff 31.5px,#5710f8 48.0px,#ce38d7 65.0px,#ff50b0 76.5px,#ffa45b 98.0px,#fffe01 121.0px,#ffffff 131.5px,#ffff00 141.5px,#ffa55a 163.5px,#ff9769 167.0px)"></i><i style="left:3px;background:linear-gradient(#00000f 0.0px,#000085 15.5px,#0000ff 31.5px,#5710f8 48.0px,#ce38d7 65.0px,#ff50b0 76.5px,#ffa45b 98.0px,#fffe01 121.0px,#ffffff 131.5px,#ffff00 141.5px,#ffa55a 163.5px,#ff9768 167.0px)"></i><i style="left:6px;background:linear-gradient(#00000f 0.0px,#000085 15.5px,#0100ff 31.5px,#5810f8 48.0px,#ce38d7 65.0px,#ff50b0 76.5px,#ffa55a 98.0px,#fffe01 121.0px,#fffffe 131.5px,#ffff00 141.5px,#ffa659 163.5px,#ff9868 167.0px)"></i><i style="left:9px;background:linear-gradient(#00000f 0.0px,#000086 15.5px,#0100ff 31.5px,#5810f8 48.0px,#cb37d8 64.5px,#ff50b0 76.5px,#ffa55a 98.0px,#ffff00 121.0px,#fffffe 131.5px,#ffff00 141.5px,#ffa45b 164.0px,#ff9867 167.0px)"></i><i style="left:12px;background:linear-gradient(#000010 0.0px,#000086 15.5px,#0100ff 31.5px,#5810f8 48.0px,#cc38d8 64.5px,#ff51af 76.5px,#ffa55a 98.0px,#ffff00 121.0px,#fffffd 131.5px,#ffff00 141.5px,#ffa55a 164.0px,#ff9867 167.0px)"></i><i style="left:15px;background:linear-gradient(#000010 0.0px,#000086 15.5px,#0100ff 31.5px,#5810f8 48.0px,#cc38d8 64.5px,#ff51af 76.5px,#ffa55a 98.0px,#ffff00 121.0px,#fffffc 131.5px,#ffff00 141.5px,#ffa55a 164.0px,#ff9966 167.0px)"></i><i style="left:18px;background:linear-gradient(#000010 0.0px,#000087 15.5px,#0000fd 31.0px,#5910f8 48.0px,#cc38d8 64.5px,#ff51af 76.5px,#ffa55a 98.0px,#ffff01 121.0px,#fffffa 131.5px,#ffff00 141.5px,#ffa55a 164.0px,#ff9966 167.0px)"></i><i style="left:21px;background:linear-gradient(#000011 0.0px,#000087 15.5px,#0000fe 31.0px,#5910f8 48.0px,#cd38d8 64.5px,#fe50b1 76.0px,#ffa55a 98.0px,#ffff02 121.0px,#fffff9 131.5px,#ffff00 141.5px,#ffa55a 164.0px,#ff9966 167.0px)"></i><i style="left:24px;background:linear-gradient(#000011 0.0px,#000088 15.5px,#0000fe 31.0px,#5a11f8 48.0px,#cd38d8 64.5px,#fe50b0 76.0px,#ffa659 98.0px,#ffff04 121.0px,#fffffa 131.0px,#ffff00 141.5px,#ffa659 164.0px,#ff9a65 167.0px)"></i><i style="left:27px;background:linear-gradient(#000012 0.0px,#000089 15.5px,#0000ff 31.0px,#5710f8 47.5px,#ce38d8 64.5px,#ff50b0 76.0px,#ffa45b 97.5px,#ffff06 121.0px,#fffffc 131.0px,#ffff00 141.5px,#ffa659 164.0px,#ff9a65 167.0px)"></i><i style="left:30px;background:linear-gradient(#000013 0.0px,#000089 15.5px,#0100ff 31.0px,#5810f8 47.5px,#ce38d7 64.5px,#ff50b0 76.0px,#ffa45b 97.5px,#fffe01 120.5px,#fffffe 131.0px,#fffe01 141.5px,#ffa45b 164.5px,#ff9a65 167.0px)"></i><i style="left:33px;background:linear-gradient(#000014 0.0px,#00008a 15.5px,#0100ff 31.0px,#5810f8 47.5px,#cc38d8 64.0px,#ff51af 76.0px,#ffa55a 97.5px,#ffff00 120.5px,#fffffd 131.0px,#fffe01 141.5px,#ffa45b 164.5px,#ff9a65 167.0px)"></i><i style="left:36px;background:linear-gradient(#000015 0.0px,#000087 15.0px,#0000fe 30.5px,#5910f8 47.5px,#cd38d8 64.0px,#fe4fb1 75.5px,#ffa55a 97.5px,#ffff01 120.5px,#fffffb 131.0px,#ffff05 141.0px,#ffa45b 164.5px,#ff9a65 167.0px)"></i><i style="left:39px;background:linear-gradient(#000016 0.0px,#000088 15.0px,#0000ff 30.5px,#5a11f8 47.5px,#cd38d8 64.0px,#fe50b0 75.5px,#ffa659 97.5px,#ffff03 120.5px,#fffffa 130.5px,#ffff03 141.0px,#ffa45b 164.5px,#ff9b65 167.0px)"></i><i style="left:42px;background:linear-gradient(#000017 0.0px,#000089 15.0px,#0000ff 30.5px,#5710f8 47.0px,#ce38d7 64.0px,#ff50b0 75.5px,#ffa45b 97.0px,#fffe01 120.0px,#fffffd 130.5px,#ffff01 141.0px,#ffa45b 164.5px,#ff9b65 167.0px)"></i><i style="left:45px;background:linear-gradient(#000018 0.0px,#00008a 15.0px,#0100ff 30.5px,#5810f8 47.0px,#cc38d8 63.5px,#ff51af 75.5px,#ffa55a 97.0px,#ffff00 120.0px,#fffffe 130.5px,#ffff00 141.0px,#ffa45b 164.5px,#ff9b64 167.0px)"></i><i style="left:48px;background:linear-gradient(#000019 0.0px,#00008b 15.0px,#0000fe 30.0px,#5910f8 47.0px,#cd38d8 63.5px,#fe50b1 75.0px,#ffa55a 97.0px,#ffff01 120.0px,#fffffb 130.5px,#fffe01 141.0px,#ffa45b 164.5px,#ff9b65 167.0px)"></i><i style="left:51px;background:linear-gradient(#00001a 0.0px,#00008d 15.0px,#0000ff 30.0px,#5710f8 46.5px,#ce38d8 63.5px,#ff50b0 75.0px,#ffa659 97.0px,#ffff04 120.0px,#fffffb 130.0px,#ffff06 140.5px,#ffd22d 152.5px,#ffa45b 164.5px,#ff9b65 167.0px)"></i><i style="left:54px;background:linear-gradient(#00001b 0.0px,#00008e 15.0px,#0100ff 30.0px,#5810f8 46.5px,#cc37d8 63.0px,#ff50b0 75.0px,#ffa55a 96.5px,#fffe01 119.5px,#ffffff 130.0px,#ffff03 140.5px,#ffa659 164.0px,#ff9a65 167.0px)"></i><i style="left:57px;background:linear-gradient(#00001d 0.0px,#00008c 14.5px,#0000fe 29.5px,#5910f8 46.5px,#cd38d8 63.0px,#fe50b1 74.5px,#ffa55a 96.5px,#ffff00 119.5px,#fffffc 130.0px,#ffff00 140.5px,#ffa659 164.0px,#ff9a65 167.0px)"></i><i style="left:60px;background:linear-gradient(#00001e 0.0px,#00008d 14.5px,#0000ff 29.5px,#5710f8 46.0px,#ce38d8 63.0px,#ff50b0 74.5px,#ffa659 96.5px,#ffff04 119.5px,#fffffb 129.5px,#fffe01 140.5px,#ffa659 164.0px,#ff9a65 167.0px)"></i><i style="left:63px;background:linear-gradient(#000020 0.0px,#00008f 14.5px,#0000fd 29.0px,#5810f8 46.0px,#cc38d8 62.5px,#ff51af 74.5px,#ffa55a 96.0px,#fffe01 119.0px,#ffffff 129.5px,#ffff05 140.0px,#ffd32c 152.0px,#ffa55a 164.0px,#ff9a65 167.0px)"></i><i style="left:66px;background:linear-gradient(#000022 0.0px,#000090 14.5px,#0000ff 29.0px,#5710f8 45.5px,#cd38d8 62.5px,#fe50b1 74.0px,#ffa55a 96.0px,#ffff01 119.0px,#fffffa 129.5px,#ffff02 140.0px,#ffd22d 152.0px,#ffa55a 164.0px,#ff9a65 167.0px)"></i><i style="left:69px;background:linear-gradient(#000023 0.0px,#000092 14.5px,#0100ff 29.0px,#5810f8 45.5px,#cb37d8 62.0px,#ff50b0 74.0px,#ffa45b 95.5px,#fffe01 118.5px,#fffffc 129.0px,#ffff00 140.0px,#ffd22d 152.0px,#ffa55a 164.0px,#ff9a66 167.0px)"></i><i style="left:72px;background:linear-gradient(#000025 0.0px,#000090 14.0px,#0000fe 28.5px,#5910f8 45.5px,#cd38d8 62.0px,#fe50b1 73.5px,#ffa55a 95.5px,#ffff00 118.5px,#fffffd 129.0px,#ffff05 139.5px,#ffd32c 151.5px,#ffa45b 164.0px,#ff9966 167.0px)"></i><i style="left:75px;background:linear-gradient(#000027 0.0px,#000092 14.0px,#0100ff 28.5px,#5810f8 45.0px,#ce38d7 62.0px,#ff50b0 73.5px,#ffa45b 95.0px,#ffff05 118.5px,#fffffb 128.5px,#ffff01 139.5px,#ffd32c 151.5px,#ffa45b 164.0px,#ff9966 167.0px)"></i><i style="left:78px;background:linear-gradient(#000029 0.0px,#000094 14.0px,#0000fe 28.0px,#5910f8 45.0px,#cd38d8 61.5px,#ff51af 73.5px,#ffa55a 95.0px,#ffff00 118.0px,#fffffe 128.5px,#fffe01 139.5px,#ffd22d 151.5px,#ffa659 163.5px,#ff9967 167.0px)"></i><i style="left:81px;background:linear-gradient(#00002b 0.0px,#000096 14.0px,#0100ff 28.0px,#5810f8 44.5px,#ce38d7 61.5px,#ff50b0 73.0px,#ffa659 95.0px,#ffff04 118.0px,#fffffa 128.0px,#ffff04 139.0px,#ffd32c 151.0px,#ffa55a 163.5px,#ff9867 167.0px)"></i><i style="left:84px;background:linear-gradient(#00002d 0.0px,#000094 13.5px,#0000ff 27.5px,#5910f8 44.5px,#cd38d8 61.0px,#fe4fb1 72.5px,#ffa55a 94.5px,#ffff00 117.5px,#fffffe 128.0px,#ffff00 139.0px,#ffd32c 151.0px,#ffa55a 163.5px,#ff9867 167.0px)"></i><i style="left:87px;background:linear-gradient(#00002f 0.0px,#000096 13.5px,#0100ff 27.5px,#5810f8 44.0px,#ce38d7 61.0px,#ff50b0 72.5px,#ffa45b 94.0px,#ffff04 117.5px,#fffffa 127.5px,#ffff05 138.5px,#ffd22d 151.0px,#ffa45b 163.5px,#ff9768 167.0px)"></i><i style="left:90px;background:linear-gradient(#000031 0.0px,#000098 13.5px,#0000ff 27.0px,#5710f8 43.5px,#cd38d8 60.5px,#fe50b1 72.0px,#ffa55a 94.0px,#ffff00 117.0px,#fffffe 127.5px,#ffff00 138.5px,#ffd32c 150.5px,#ffa55a 163.0px,#ff9768 167.0px)"></i><i style="left:93px;background:linear-gradient(#000034 0.0px,#000097 13.0px,#0000fe 26.5px,#5810f8 43.5px,#cc38d8 60.0px,#ff50b0 72.0px,#ffa45b 93.5px,#ffff05 117.0px,#fffffb 127.0px,#fffe01 138.5px,#ffd22d 150.5px,#ffa55a 163.0px,#ff9669 167.0px)"></i><i style="left:96px;background:linear-gradient(#000036 0.0px,#000099 13.0px,#0100ff 26.5px,#5710f8 43.0px,#ce38d8 60.0px,#ff50b0 71.5px,#ffa55a 93.5px,#ffff00 116.5px,#fffffd 127.0px,#ffff01 138.0px,#ffd22d 150.5px,#ffa45b 163.0px,#ff9669 167.0px)"></i><i style="left:99px;background:linear-gradient(#000039 0.0px,#00009c 13.0px,#0000ff 26.0px,#5910f8 43.0px,#cd38d8 59.5px,#ff51af 71.5px,#ffa55a 93.0px,#fffe01 116.0px,#fffffc 126.5px,#fffe01 138.0px,#ffd32c 150.0px,#ffa55a 162.5px,#ff956a 167.0px)"></i><i style="left:102px;background:linear-gradient(#00003c 0.0px,#00009b 12.5px,#0000fd 25.5px,#5810f8 42.5px,#cb37d8 59.0px,#ff50b0 71.0px,#ffa659 93.0px,#ffff02 116.0px,#fffffb 126.5px,#ffff00 137.5px,#ffd22d 150.0px,#ffa55a 162.5px,#ff956b 167.0px)"></i><i style="left:105px;background:linear-gradient(#00003e 0.0px,#00009d 12.5px,#0100ff 25.5px,#5710f8 42.0px,#cd38d8 59.0px,#fe50b0 70.5px,#ffa55a 92.5px,#ffff00 115.5px,#ffffff 126.0px,#ffff05 137.0px,#ffd32c 149.5px,#ffa45b 162.5px,#ff946b 167.0px)"></i><i style="left:108px;background:linear-gradient(#000041 0.0px,#0000a0 12.5px,#0000ff 25.0px,#5a11f8 42.0px,#cd38d8 58.5px,#ff51af 70.5px,#ffa55a 92.0px,#ffff06 115.5px,#fffffb 125.5px,#ffff00 137.0px,#ffd22d 149.5px,#ffa55a 162.0px,#ff936c 167.0px)"></i><i style="left:111px;background:linear-gradient(#000044 0.0px,#00009f 12.0px,#0000fe 24.5px,#5910f8 41.5px,#cc38d8 58.0px,#ff50b0 70.0px,#ffa659 92.0px,#ffff01 115.0px,#fffffc 125.5px,#ffff04 136.5px,#ffd32c 149.0px,#ffa45b 162.0px,#ff936d 167.0px)"></i><i style="left:114px;background:linear-gradient(#000047 0.0px,#0000a2 12.0px,#0000fd 24.0px,#5810f8 41.0px,#ce38d7 58.0px,#ff50b0 69.5px,#ffa55a 91.5px,#ffff00 114.5px,#ffffff 125.0px,#ffff00 136.5px,#ffd22d 149.0px,#ffa55a 161.5px,#ff926d 167.0px)"></i><i style="left:117px;background:linear-gradient(#00004a 0.0px,#0000a5 12.0px,#0100ff 24.0px,#5710f8 40.5px,#cd38d8 57.5px,#fe50b1 69.0px,#ffa55a 91.0px,#fffe01 114.0px,#fffffb 124.5px,#ffff01 136.0px,#ffd32c 148.5px,#ffa55a 161.5px,#ff916e 167.0px)"></i><i style="left:120px;background:linear-gradient(#00004d 0.0px,#0000ff 23.5px,#5710f8 40.0px,#cd38d8 57.0px,#ff51af 69.0px,#ffa45b 90.5px,#ffff03 114.0px,#fffffb 124.5px,#ffff05 135.5px,#ffd42b 148.0px,#ffa659 161.0px,#ff906f 167.0px)"></i><i style="left:123px;background:linear-gradient(#000051 0.0px,#0000ff 23.0px,#5910f8 40.0px,#cc38d8 56.5px,#ff50b0 68.5px,#ffa659 90.5px,#ffff00 113.5px,#fffffe 124.0px,#ffff00 135.5px,#ffd32c 148.0px,#ffa55a 161.0px,#ff8f70 167.0px)"></i><i style="left:126px;background:linear-gradient(#000054 0.0px,#0000ff 22.5px,#5910f8 39.5px,#cb37d8 56.0px,#ff50b0 68.0px,#ffa55a 90.0px,#fffe01 113.0px,#fffffd 123.5px,#ffff01 135.0px,#ffd32c 147.5px,#ffa659 160.5px,#ff8f71 167.0px)"></i><i style="left:129px;background:linear-gradient(#000058 0.0px,#0000fe 22.0px,#5810f8 39.0px,#ce38d7 56.0px,#ff50b0 67.5px,#ffa55a 89.5px,#fffe01 112.5px,#fffffa 123.0px,#ffff05 134.5px,#ffd22d 147.5px,#ffa55a 160.5px,#ff8e72 167.0px)"></i><i style="left:132px;background:linear-gradient(#00005b 0.0px,#0000fe 21.5px,#5810f8 38.5px,#ce38d8 55.5px,#fe50b1 67.0px,#ffa55a 89.0px,#ffff04 112.5px,#fffffa 123.0px,#ffff00 134.5px,#ffd32c 147.0px,#ffa55a 160.0px,#ff8d72 167.0px)"></i><i style="left:135px;background:linear-gradient(#00005f 0.0px,#0000fe 21.0px,#5810f8 38.0px,#cd38d8 55.0px,#fe50b1 66.5px,#ffa45b 88.5px,#ffff02 112.0px,#fffffd 122.5px,#ffff00 134.0px,#ffd22d 147.0px,#ffa45b 160.0px,#ff8c73 167.0px)"></i><i style="left:138px;background:linear-gradient(#000063 0.0px,#0000fe 20.5px,#5810f8 37.5px,#cd38d8 54.5px,#ff51af 66.5px,#ffa45b 88.0px,#ffff00 111.5px,#fffffe 122.0px,#ffff02 133.5px,#ffd22d 146.5px,#ffa55a 159.5px,#ff8b74 167.0px)"></i><i style="left:141px;background:linear-gradient(#000067 0.0px,#0000fe 20.0px,#5810f8 37.0px,#cd38d8 54.0px,#ff51af 66.0px,#ffa659 88.0px,#ffff00 111.0px,#fffffe 121.5px,#ffff05 133.0px,#ffd32c 146.0px,#ffa659 159.0px,#ff8a75 167.0px)"></i><i style="left:144px;background:linear-gradient(#00006b 0.0px,#0000fe 19.5px,#5810f8 36.5px,#cd38d8 53.5px,#ff51af 65.5px,#ffa659 87.5px,#fffe01 110.5px,#fffffc 121.0px,#fffe01 133.0px,#ffd22d 146.0px,#ffa55a 159.0px,#ff8976 167.0px)"></i><i style="left:147px;background:linear-gradient(#00006f 0.0px,#0000fe 19.0px,#5810f8 36.0px,#cd38d8 53.0px,#ff51af 65.0px,#ffa659 87.0px,#fffe01 110.0px,#fffffb 120.5px,#ffff00 132.5px,#ffd22d 145.5px,#ffa55a 158.5px,#ff8877 167.0px)"></i><i style="left:150px;background:linear-gradient(#000073 0.0px,#0000ff 18.5px,#5810f8 35.5px,#cd38d8 52.5px,#ff51af 64.5px,#ffa659 86.5px,#fffe01 109.5px,#fffffa 120.0px,#ffff00 132.0px,#ffd22d 145.0px,#ffa659 158.0px,#ff8779 167.0px)"></i><i style="left:153px;background:linear-gradient(#000078 0.0px,#0000ff 18.0px,#5810f8 35.0px,#cd38d8 52.0px,#ff51af 64.0px,#ffa659 86.0px,#fffe01 109.0px,#fffffa 120.0px,#ffff02 131.5px,#ffd32c 144.5px,#ffa55a 158.0px,#ff867a 167.0px)"></i><i style="left:156px;background:linear-gradient(#00007c 0.0px,#0100ff 17.5px,#5910f8 34.5px,#ce38d8 51.5px,#fe50b1 63.0px,#ffa659 85.5px,#ffff06 109.0px,#fffffb 119.5px,#ffff03 131.0px,#ffd32c 144.0px,#ffa55a 157.5px,#ff857b 167.0px)"></i><i style="left:159px;background:linear-gradient(#000081 0.0px,#0100ff 17.0px,#5911f8 34.0px,#ce38d7 51.0px,#fe50b1 62.5px,#ffa659 85.0px,#ffff06 108.5px,#fffffb 119.0px,#ffff04 130.5px,#ffd32c 143.5px,#ffa659 157.0px,#ff837c 167.0px)"></i><i style="left:162px;background:linear-gradient(#000086 0.0px,#0000fe 16.0px,#5710f8 33.0px,#cc38d8 50.0px,#fe50b0 62.0px,#ffa659 84.5px,#ffff06 108.0px,#fffffb 118.5px,#ffff05 130.0px,#ffd22d 143.5px,#ffa45b 157.0px,#ff827d 167.0px)"></i><i style="left:165px;background:linear-gradient(#00008b 0.0px,#0000ff 15.5px,#5810f8 32.5px,#cc38d8 49.5px,#ff50b0 61.5px,#ffa45b 83.5px,#fffe01 107.0px,#fffffb 118.0px,#fffe01 130.0px,#ffd22d 143.0px,#ffa55a 156.5px,#ff817e 167.0px)"></i><i style="left:168px;background:linear-gradient(#000090 0.0px,#0100ff 15.0px,#5910f8 32.0px,#cd38d8 49.0px,#ff50b0 61.0px,#ffa45b 83.0px,#fffe01 106.5px,#fffffb 117.5px,#fffe01 129.5px,#ffd22d 142.5px,#ffa55a 156.0px,#ff8080 167.0px)"></i><i style="left:171px;background:linear-gradient(#000095 0.0px,#0000fe 14.0px,#5a11f8 31.5px,#ce38d8 48.5px,#ff51af 60.5px,#ffa55a 82.5px,#fffe01 106.0px,#fffffa 117.0px,#fffe01 129.0px,#ffd32c 142.0px,#ffa55a 155.5px,#ff7e81 167.0px)"></i><i style="left:174px;background:linear-gradient(#00009b 0.0px,#0000ff 13.5px,#5710f8 30.5px,#cb37d8 47.5px,#fe50b1 59.5px,#ffa55a 82.0px,#ffff00 105.5px,#fffffa 116.5px,#fffe01 128.5px,#ffd32c 141.5px,#ffa659 155.0px,#ff7d82 167.0px)"></i><i style="left:177px;background:linear-gradient(#0000a0 0.0px,#0000fd 12.5px,#5910f8 30.0px,#cd38d8 47.0px,#ff50b0 59.0px,#ffa55a 81.5px,#ffff00 105.0px,#fffffa 115.5px,#fffe01 128.0px,#ffd32c 141.0px,#ffa659 154.5px,#ff7c84 167.0px)"></i><i style="left:180px;background:linear-gradient(#0000a6 0.0px,#0000ff 12.0px,#5710f8 29.0px,#cd38d8 46.5px,#ff50b0 58.5px,#ffa659 81.0px,#ffff00 104.5px,#fffffb 115.0px,#fffe01 127.5px,#ffd12e 141.0px,#ffa45b 154.5px,#ff7a85 167.0px)"></i><i style="left:183px;background:linear-gradient(#0000ac 0.0px,#0000fd 11.0px,#5810f8 28.5px,#cc38d8 45.5px,#fe50b1 57.5px,#ffa45b 80.0px,#ffd22d 92.0px,#ffff02 104.0px,#fffffd 114.5px,#fffe01 127.0px,#ffd12e 140.5px,#ffa45b 154.0px,#ff7986 167.0px)"></i><i style="left:186px;background:linear-gradient(#0000b2 0.0px,#0000ff 10.5px,#5710f8 27.5px,#cd38d8 45.0px,#ff50b0 57.0px,#ffa55a 79.5px,#ffd22d 91.5px,#ffff04 103.5px,#ffffff 114.0px,#ffff05 126.0px,#ffd32c 139.5px,#ffa55a 153.5px,#ff7888 167.0px)"></i><i style="left:189px;background:linear-gradient(#0000b8 0.0px,#0000fe 9.5px,#5810f8 27.0px,#cb37d8 44.0px,#ff51af 56.5px,#ffa659 79.0px,#fffe01 102.5px,#fffffe 113.5px,#ffff03 125.5px,#ffd32c 139.0px,#ffa55a 153.0px,#ff7689 167.0px)"></i><i style="left:192px;background:linear-gradient(#0000be 0.0px,#0100ff 9.0px,#5710f8 26.0px,#cd38d8 43.5px,#ff50b0 55.5px,#ffa45b 78.0px,#ffd22d 90.0px,#ffff00 102.0px,#fffffc 113.0px,#ffff02 125.0px,#ffd32c 138.5px,#ffa55a 152.5px,#ff758b 167.0px)"></i><i style="left:195px;background:linear-gradient(#0000c5 0.0px,#0000ff 8.0px,#5910f8 25.5px,#cc38d8 42.5px,#ff50b0 55.0px,#ffa55a 77.5px,#ffd22d 89.5px,#ffff01 101.5px,#fffff9 112.5px,#ffff01 124.5px,#ffd32c 138.0px,#ffa55a 152.0px,#ff738c 167.0px)"></i><i style="left:198px;background:linear-gradient(#0000cb 0.0px,#0000ff 7.0px,#5810f8 24.5px,#cd38d8 42.0px,#ff50b0 54.0px,#ffa659 77.0px,#ffd32c 89.0px,#ffff04 101.0px,#fffffc 111.5px,#ffff00 124.0px,#ffd32c 137.5px,#ffa55a 151.5px,#ff728e 167.0px)"></i><i style="left:201px;background:linear-gradient(#0000d2 0.0px,#0000fe 6.0px,#5710f8 23.5px,#cc38d8 41.0px,#ff51af 53.5px,#ffa55a 76.0px,#ffd22d 88.0px,#fffe01 100.0px,#ffffff 111.0px,#ffff00 123.5px,#ffd22d 137.0px,#ffa55a 151.0px,#ff708f 167.0px)"></i><i style="left:204px;background:linear-gradient(#0000d9 0.0px,#0000fd 5.0px,#5710f8 22.5px,#ce38d7 40.5px,#ff50b0 52.5px,#ffa659 75.5px,#ffd22d 87.5px,#ffff00 99.5px,#fffffc 110.5px,#fffe01 123.0px,#ffd22d 136.5px,#ffa55a 150.5px,#ff6f91 167.0px)"></i><i style="left:207px;background:linear-gradient(#0000e0 0.0px,#0000fd 4.0px,#5910f8 22.0px,#cd38d8 39.5px,#fe50b1 51.5px,#ffa55a 74.5px,#ffd12e 86.5px,#ffff05 99.0px,#fffffa 109.5px,#ffff03 122.0px,#ffd22d 136.0px,#ffa45b 150.0px,#ff6d93 167.0px)"></i><i style="left:210px;background:linear-gradient(#0000e7 0.0px,#0100ff 3.5px,#5910f8 21.0px,#cd38d8 38.5px,#ff51af 51.0px,#ffa659 74.0px,#ffd22d 86.0px,#ffff00 98.0px,#fffffe 109.0px,#ffff00 121.5px,#ffd22d 135.5px,#ffa45b 149.5px,#ff6b94 167.0px)"></i><i style="left:213px;background:linear-gradient(#0000ef 0.0px,#0000fd 2.0px,#5910f8 20.0px,#cc38d8 37.5px,#ff50b0 50.0px,#ffa55a 73.0px,#ffd12e 85.0px,#ffff02 97.5px,#fffffc 108.5px,#ffff00 121.0px,#ffd32c 134.5px,#ffa659 148.5px,#ff6a96 167.0px)"></i><i style="left:216px;background:linear-gradient(#0000f7 0.0px,#0000fe 1.0px,#5810f8 19.0px,#cc38d8 36.5px,#ff50b0 49.0px,#ffa45b 72.0px,#ffd02f 84.0px,#fffe01 96.5px,#fffffb 107.5px,#ffff05 120.0px,#ffd32c 134.0px,#ffa659 148.0px,#ff6898 167.0px)"></i><i style="left:219px;background:linear-gradient(#0000fe 0.0px,#5910f8 18.0px,#cb37d8 35.5px,#fe50b1 48.0px,#ffa55a 71.5px,#ffd12e 83.5px,#ffff01 96.0px,#ffffff 107.0px,#ffff02 119.5px,#ffd22d 133.5px,#ffa55a 147.5px,#ff6699 167.0px)"></i><i style="left:222px;background:linear-gradient(#0501ff 0.0px,#5910f8 17.0px,#ce38d7 35.0px,#ff51af 47.5px,#ffa55a 70.5px,#ffd12e 82.5px,#fffe01 95.0px,#fffffb 106.5px,#ffff00 119.0px,#ffd22d 133.0px,#ffa55a 147.0px,#ff659b 167.0px)"></i><i style="left:225px;background:linear-gradient(#0b02fe 0.0px,#5910f8 16.0px,#cb37d8 33.5px,#ff51af 46.5px,#ffa45b 69.5px,#ffd22d 82.0px,#ffff01 94.5px,#fffffd 105.5px,#ffff05 118.0px,#ffd32c 132.0px,#ffa55a 146.5px,#ff639d 167.0px)"></i><i style="left:228px;background:linear-gradient(#1003fe 0.0px,#5710f8 14.5px,#cc38d8 32.5px,#ff51af 45.5px,#ffa659 69.0px,#ffd12e 81.0px,#fffe01 93.5px,#fffffc 105.0px,#ffff01 117.5px,#ffd22d 131.5px,#ffa45b 146.0px,#ff619f 167.0px)"></i><i style="left:231px;background:linear-gradient(#1604fd 0.0px,#5810f8 13.5px,#cc38d8 31.5px,#ff51af 44.5px,#ffa55a 68.0px,#ffd22d 80.5px,#ffff03 93.0px,#fffffc 104.0px,#fffe01 117.0px,#ffd22d 131.0px,#ffa55a 145.0px,#ff5fa1 167.0px)"></i><i style="left:234px;background:linear-gradient(#1c05fd 0.0px,#5910f8 12.5px,#cc38d8 30.5px,#ff51af 43.5px,#ffa55a 67.0px,#ffd22d 79.5px,#ffff00 92.0px,#fffffc 103.5px,#ffff02 116.0px,#ffd32c 130.0px,#ffa55a 144.5px,#ff5da2 167.0px)"></i><i style="left:237px;background:linear-gradient(#2206fc 0.0px,#5710f8 11.0px,#cd38d8 29.5px,#ff51af 42.5px,#ffa55a 66.0px,#ffd12e 78.5px,#ffff05 91.5px,#fffffd 102.5px,#ffff00 115.5px,#ffd22d 129.5px,#ffa55a 144.0px,#ff5ca4 167.0px)"></i><i style="left:240px;background:linear-gradient(#2807fc 0.0px,#5810f8 10.0px,#ce38d8 28.5px,#fe50b1 41.0px,#ff7a86 53.0px,#ffa55a 65.0px,#ffd12e 77.5px,#ffff01 90.5px,#fffffc 102.0px,#ffff03 114.5px,#ffd32c 128.5px,#ffa659 143.0px,#ff8080 155.0px,#ff5aa6 167.0px)"></i><i style="left:243px;background:linear-gradient(#2f08fb 0.0px,#5710f8 8.5px,#cc38d8 27.0px,#ff50b0 40.0px,#ff7a85 52.0px,#ffa55a 64.0px,#ffd12e 76.5px,#ffff00 89.5px,#fffffe 101.0px,#ffff00 114.0px,#ffd32c 128.0px,#ffa55a 142.5px,#ff7f80 154.5px,#ff58a8 167.0px)"></i><i style="left:246px;background:linear-gradient(#350afb 0.0px,#5910f8 7.5px,#cd38d8 26.0px,#ff50b0 39.0px,#ff7a85 51.0px,#ffa55a 63.0px,#ffd02f 75.5px,#fffe01 88.5px,#fffffa 100.5px,#ffff03 113.0px,#ffd22d 127.5px,#ffa45b 142.0px,#ff7d82 154.5px,#ff56aa 167.0px)"></i><i style="left:249px;background:linear-gradient(#3b0bfa 0.0px,#5810f8 6.0px,#ce38d7 25.0px,#ff51af 38.0px,#ff7b85 50.0px,#ffa55a 62.0px,#ffd22d 75.0px,#ffff03 88.0px,#fffffe 99.5px,#ffff00 112.5px,#ffd32c 126.5px,#ffa55a 141.0px,#ff7d83 154.0px,#ff54ac 167.0px)"></i><i style="left:252px;background:linear-gradient(#420cfa 0.0px,#5710f8 4.5px,#cd38d8 23.5px,#fe50b0 36.5px,#ff7986 48.5px,#ffa55a 61.0px,#ffd22d 74.0px,#ffff00 87.0px,#fffffc 98.5px,#ffff02 111.5px,#ffd22d 126.0px,#ffa55a 140.5px,#ff7c83 153.5px,#ff52ae 167.0px)"></i><i style="left:255px;background:linear-gradient(#480df9 0.0px,#5910f8 3.5px,#cc37d8 22.0px,#ff50b0 35.5px,#ff7a86 47.5px,#ffa55a 60.0px,#ffd22d 73.0px,#ffff00 86.0px,#fffffb 98.0px,#fffe01 111.0px,#ffd32c 125.0px,#ffa659 139.5px,#ff7c84 153.0px,#ff50b0 167.0px)"></i><i style="left:258px;background:linear-gradient(#4f0ef9 0.0px,#5810f8 2.0px,#cd38d8 21.0px,#fe50b1 34.0px,#ff7a85 46.5px,#ffa55a 59.0px,#ffd22d 72.0px,#fffe01 85.0px,#fffffe 97.0px,#ffff00 110.0px,#ffd22d 124.5px,#ffa55a 139.0px,#ff7b85 152.5px,#fe50b1 166.5px,#fd4fb2 167.0px)"></i><i style="left:261px;background:linear-gradient(#5610f8 0.0px,#5810f8 0.5px,#cc38d8 19.5px,#ff50b0 33.0px,#ff7b85 45.5px,#ffa659 58.0px,#ffd22d 71.0px,#fffe01 84.0px,#fffffd 96.0px,#ffff03 109.0px,#ffd32c 123.5px,#ffa659 138.0px,#ff7c84 151.5px,#ff50b0 165.5px,#fa4eb4 167.0px)"></i><i style="left:264px;background:linear-gradient(#5e12f6 0.0px,#cc38d8 18.0px,#fe50b1 31.5px,#ff7a86 44.0px,#ffa45b 56.5px,#ffd22d 70.0px,#ffff04 83.5px,#fffffa 95.0px,#fffe01 108.5px,#ffd22d 123.0px,#ffa55a 137.5px,#ff7b84 151.0px,#ff50b0 165.0px,#f84db6 167.0px)"></i><i style="left:267px;background:linear-gradient(#6715f4 0.0px,#ce38d8 17.0px,#ff50b0 30.5px,#ff7a85 43.0px,#ffa55a 55.5px,#ffd22d 69.0px,#ffff04 82.5px,#fffffc 94.5px,#ffff00 107.5px,#ffd22d 122.0px,#ffa659 136.5px,#ff7a85 150.5px,#fe50b1 164.5px,#f64cb7 167.0px)"></i><i style="left:270px;background:linear-gradient(#7018f1 0.0px,#cd38d8 15.5px,#ff50b0 29.0px,#ff7a86 41.5px,#ffa55a 54.5px,#ffd22d 68.0px,#ffff03 81.5px,#fffffe 93.5px,#ffff02 106.5px,#ffd32c 121.0px,#ffa55a 136.0px,#ff7b84 149.5px,#ff50b0 163.5px,#f34ab9 167.0px)"></i><i style="left:273px;background:linear-gradient(#7a1cef 0.0px,#cd38d8 14.0px,#fe50b1 27.5px,#ff7b85 40.5px,#ffa659 53.5px,#ffd32c 67.0px,#ffff03 80.5px,#fffffe 92.5px,#fffe01 106.0px,#ffd22d 120.5px,#ffa55a 135.0px,#ff7a85 149.0px,#fe50b0 163.0px,#f149bb 167.0px)"></i><i style="left:276px;background:linear-gradient(#831fec 0.0px,#cd38d8 12.5px,#ff50af 26.5px,#ff7a86 39.0px,#ffa55a 52.0px,#ffd12e 65.5px,#ffff03 79.5px,#fffffc 91.5px,#ffff00 105.0px,#ffd22d 119.5px,#ffa55a 134.5px,#ff7b84 148.0px,#ff50b0 162.0px,#ef48bd 167.0px)"></i><i style="left:279px;background:linear-gradient(#8c22ea 0.0px,#cd38d8 11.0px,#ff50b0 25.0px,#ff7b85 38.0px,#ffa55a 51.0px,#ffd22d 64.5px,#ffff03 78.5px,#fffffb 90.5px,#ffff00 104.0px,#ffd32c 118.5px,#ffa55a 133.5px,#ff7a85 147.5px,#ff50b0 161.5px,#ec47bf 167.0px)"></i><i style="left:282px;background:linear-gradient(#9625e7 0.0px,#cd38d8 9.5px,#ff50b0 23.5px,#ff7a85 36.5px,#ffa55a 49.5px,#ffd22d 63.5px,#ffff04 77.5px,#fffffa 90.0px,#ffff01 103.0px,#ffd32c 117.5px,#ffa659 132.5px,#ff7b85 146.5px,#ff50b0 160.5px,#ea46c1 167.0px)"></i><i style="left:285px;background:linear-gradient(#9f28e5 0.0px,#cd38d8 8.0px,#ff50b0 22.0px,#ff7a86 35.0px,#ffa55a 48.5px,#ffd32c 62.5px,#ffff05 76.5px,#fffffb 89.0px,#ffff03 102.0px,#ffd22d 117.0px,#ffa55a 132.0px,#ff7a85 146.0px,#fe50b0 160.0px,#e745c3 167.0px)"></i><i style="left:288px;background:linear-gradient(#a92ce2 0.0px,#ce38d8 6.5px,#ff50b0 20.5px,#ff7986 33.5px,#ffa55a 47.0px,#ffd22d 61.0px,#fffe01 75.0px,#fffffc 88.0px,#ffff04 101.0px,#ffd22d 116.0px,#ffa55a 131.0px,#ff7b85 145.0px,#ff50b0 159.0px,#e543c5 167.0px)"></i><i style="left:291px;background:linear-gradient(#b22fdf 0.0px,#cc38d8 4.5px,#ff50b0 19.0px,#ff7b85 32.5px,#ffa659 46.0px,#ffd22d 60.0px,#ffff00 74.0px,#fffffc 87.0px,#fffe01 100.5px,#ffd32c 115.0px,#ffa55a 130.0px,#ff7b84 144.0px,#fe50b1 158.5px,#e242c7 167.0px)"></i><i style="left:294px;background:linear-gradient(#bb32dd 0.0px,#cc38d8 3.0px,#ff50b0 17.5px,#ff7a85 31.0px,#ffa55a 44.5px,#ffd12e 58.5px,#ffff00 73.0px,#fffffc 86.0px,#fffe01 99.5px,#ffd12e 114.5px,#ffa45b 129.5px,#ff7a85 143.5px,#ff50b0 157.5px,#e041c9 167.0px)"></i><i style="left:297px;background:linear-gradient(#c535da 0.0px,#cd38d8 1.5px,#ff50b0 16.0px,#ff7a85 29.5px,#ffa45b 43.0px,#ffd22d 57.5px,#ffff02 72.0px,#fffffc 85.0px,#fffe01 98.5px,#ffd22d 113.5px,#ffa55a 128.5px,#ff7b85 142.5px,#ff51af 156.5px,#dd40cb 167.0px)"></i><i style="left:300px;background:linear-gradient(#ce38d8 0.0px,#ff50b0 14.5px,#ff7a86 28.0px,#ffa659 42.0px,#ffd32c 56.5px,#ffff04 71.0px,#fffffc 84.0px,#ffff00 97.5px,#ffd22d 112.5px,#ffa55a 127.5px,#ff7b85 141.5px,#fe50b0 156.0px,#da3ecd 167.0px)"></i><i style="left:303px;background:linear-gradient(#d33bd3 0.0px,#ff50b0 13.0px,#ff7a86 26.5px,#ffa55a 40.5px,#ffd22d 55.0px,#ffff00 69.5px,#fffffb 83.0px,#ffff00 96.5px,#ffd22d 111.5px,#ffa55a 126.5px,#ff7b84 140.5px,#ff50b0 155.0px,#d83dcf 167.0px)"></i><i style="left:306px;background:linear-gradient(#d93ece 0.0px,#ff50b0 11.5px,#ff7a86 25.0px,#ffa55a 39.0px,#ffd12e 53.5px,#ffff00 68.5px,#fffffb 81.5px,#ffff00 95.5px,#ffd22d 110.5px,#ffa55a 125.5px,#ff7c84 139.5px,#ff50b0 154.0px,#d53cd1 167.0px)"></i><i style="left:309px;background:linear-gradient(#df40ca 0.0px,#ff51af 10.0px,#ff7a86 23.5px,#ffa45b 37.5px,#ffd22d 52.5px,#ffff03 67.5px,#fffffc 80.5px,#fffe01 94.5px,#ffd22d 109.5px,#ffa659 124.5px,#ff7a85 139.0px,#fe50b1 153.5px,#d23bd4 167.0px)"></i><i style="left:312px;background:linear-gradient(#e443c5 0.0px,#ff50b0 8.0px,#ff7a86 22.0px,#ffa659 36.5px,#ffd12e 51.0px,#fffe01 66.0px,#fffffd 79.5px,#fffe01 93.5px,#ffd22d 108.5px,#ffa659 123.5px,#ff7b85 138.0px,#ff50b0 152.5px,#d039d6 167.0px)"></i><i style="left:315px;background:linear-gradient(#ea46c1 0.0px,#ff50b0 6.5px,#ff7a86 20.5px,#ffa55a 35.0px,#ffd22d 50.0px,#ffff00 65.0px,#ffffff 78.5px,#ffff04 92.0px,#ffd22d 107.5px,#ffa45b 123.0px,#ff7b85 137.0px,#ff50b0 151.5px,#cd38d8 167.0px)"></i><i style="left:318px;background:linear-gradient(#ef48bd 0.0px,#ff50b0 5.0px,#ff7a85 19.0px,#ffa55a 33.5px,#ffd22d 48.5px,#ffff04 64.0px,#fffffd 77.5px,#ffff03 91.0px,#ffd22d 106.5px,#ffa45b 122.0px,#ff7b84 136.0px,#ff50b0 150.5px,#ce38d8 166.0px,#c936d9 167.0px)"></i><i style="left:321px;background:linear-gradient(#f54bb8 0.0px,#fe50b1 3.0px,#ff7a85 17.5px,#ffa55a 32.0px,#ffd12e 47.0px,#ffff00 62.5px,#fffffb 76.5px,#ffff01 90.0px,#ffd22d 105.5px,#ffa45b 121.0px,#ff7b84 135.0px,#ff51af 149.5px,#cc38d8 165.5px,#c435da 167.0px)"></i><i style="left:324px;background:linear-gradient(#fa4eb4 0.0px,#ff50b0 1.5px,#ff7a85 16.0px,#ffa55a 30.5px,#ffd22d 46.0px,#ffff03 61.5px,#fffffc 75.0px,#ffff00 89.0px,#ffd22d 104.5px,#ffa45b 120.0px,#ff7a86 134.5px,#fe50b1 149.0px,#cc38d8 164.5px,#bf33dc 167.0px)"></i><i style="left:327px;background:linear-gradient(#ff50b0 0.0px,#ff7b85 14.5px,#ffa55a 29.0px,#ffd22d 44.5px,#ffff00 60.0px,#ffffff 74.0px,#ffff00 88.0px,#ffd12e 103.5px,#ffa45b 119.0px,#ff7a86 133.5px,#ff50b0 148.0px,#cd38d8 163.5px,#bb32dd 167.0px)"></i><i style="left:330px;background:linear-gradient(#ff55ab 0.0px,#ff7c83 13.5px,#ffa55a 27.5px,#ffd12e 43.0px,#ffff03 59.0px,#fffffc 73.0px,#ffff05 86.5px,#ffd32c 102.0px,#ffa659 117.5px,#ff7b84 132.0px,#ff50b0 147.0px,#cd38d8 162.5px,#b630de 167.0px)"></i><i style="left:333px;background:linear-gradient(#ff5aa6 0.0px,#ff7f80 13.0px,#ffa55a 26.0px,#ffd12e 41.5px,#ffff00 57.5px,#fffffc 71.5px,#ffff02 85.5px,#ffd22d 101.0px,#ffa55a 116.5px,#ff7b84 131.0px,#ff50b0 146.0px,#ce38d8 161.5px,#b12fe0 167.0px)"></i><i style="left:336px;background:linear-gradient(#ff5fa1 0.0px,#ff817e 12.0px,#ffa55a 24.5px,#ffd22d 40.5px,#ffff04 56.5px,#fffffe 70.5px,#ffff00 84.5px,#ffd22d 100.0px,#ffa55a 115.5px,#ff7b84 130.0px,#ff50b0 145.0px,#ce38d7 160.5px,#ad2de1 167.0px)"></i><i style="left:339px;background:linear-gradient(#ff649c 0.0px,#ffa55a 23.0px,#ffd22d 39.0px,#ffff01 55.0px,#fffffb 69.5px,#fffe01 83.5px,#ffd22d 99.0px,#ffa55a 114.5px,#ff7b84 129.0px,#ff50b0 144.0px,#cc38d8 160.0px,#a82be2 167.0px)"></i><i style="left:342px;background:linear-gradient(#ff6897 0.0px,#ffa55a 21.5px,#ffd22d 37.5px,#ffff00 53.5px,#fffffe 68.0px,#ffff02 82.0px,#ffd32c 97.5px,#ffa55a 113.5px,#ff7b84 128.0px,#ff50b0 143.0px,#cc38d8 159.0px,#a32ae3 167.0px)"></i><i style="left:345px;background:linear-gradient(#ff6d93 0.0px,#ffa55a 20.0px,#ffd12e 36.0px,#ffff03 52.5px,#fffffc 67.0px,#ffff00 81.0px,#ffd22d 96.5px,#ffa55a 112.5px,#ff7b85 127.0px,#ff50b0 142.0px,#cc38d8 158.0px,#9e28e5 167.0px)"></i><i style="left:348px;background:linear-gradient(#ff728e 0.0px,#ffa55a 18.5px,#ffd12e 34.5px,#ffff00 51.0px,#fffffe 65.5px,#ffff04 79.5px,#ffd32c 95.0px,#ffa659 111.0px,#ff7b85 126.0px,#ff50b0 141.0px,#cc38d8 157.0px,#9926e6 167.0px)"></i><i style="left:351px;background:linear-gradient(#ff7689 0.0px,#ffa55a 17.0px,#ffd12e 33.0px,#ffff00 49.5px,#fffffb 64.5px,#ffff00 78.5px,#ffd32c 94.0px,#ffa55a 110.0px,#ff7a85 125.0px,#ff50b0 140.0px,#cc38d8 156.0px,#9425e8 167.0px)"></i><i style="left:354px;background:linear-gradient(#ff7b85 0.0px,#ffa55a 15.5px,#ffd22d 32.0px,#ffff04 48.5px,#ffffff 63.0px,#fffe01 77.5px,#ffd22d 93.0px,#ffa55a 109.0px,#ff7a85 124.0px,#fe50b0 139.0px,#cc38d8 155.0px,#8f23e9 167.0px)"></i><i style="left:357px;background:linear-gradient(#ff7f80 0.0px,#ffa55a 14.0px,#ffd22d 30.5px,#ffff02 47.0px,#fffffb 61.5px,#ffff00 76.0px,#ffd22d 92.0px,#ffa45b 108.0px,#ff7b84 122.5px,#ff51af 137.5px,#cc38d8 154.0px,#8a21ea 167.0px)"></i><i style="left:360px;background:linear-gradient(#ff847c 0.0px,#ffa659 12.5px,#ffd22d 29.0px,#ffff00 45.5px,#fffffd 60.5px,#ffff04 74.5px,#ffd32c 90.5px,#ffa55a 106.5px,#ff7b85 121.5px,#ff50b0 136.5px,#cc38d8 153.0px,#851fec 167.0px)"></i><i style="left:363px;background:linear-gradient(#ff8877 0.0px,#ffa45b 10.5px,#ffd12e 27.0px,#ffff00 44.0px,#fffffe 59.0px,#ffff00 73.5px,#ffd22d 89.5px,#ffa55a 105.5px,#ff7a85 120.5px,#ff50b0 135.5px,#cc38d8 152.0px,#801eed 167.0px)"></i><i style="left:366px;background:linear-gradient(#ff8c73 0.0px,#ffa55a 9.0px,#ffd12e 25.5px,#ffff00 42.5px,#fffffb 57.5px,#ffff03 72.0px,#ffd32c 88.0px,#ffa659 104.0px,#ff7b84 119.0px,#ff50b0 134.5px,#ce38d7 150.5px,#7b1cee 167.0px)"></i><i style="left:369px;background:linear-gradient(#ff916e 0.0px,#ffa55a 7.5px,#ffd12e 24.0px,#fffe01 41.0px,#fffffd 56.5px,#ffff00 71.0px,#ffd22d 87.0px,#ffa55a 103.0px,#ff7b85 118.0px,#fe50b0 133.5px,#cd38d8 149.5px,#761af0 167.0px)"></i><i style="left:372px;background:linear-gradient(#ff956a 0.0px,#ffa55a 6.0px,#ffd22d 23.0px,#ffff03 40.0px,#ffffff 55.0px,#ffff00 69.5px,#ffd22d 85.5px,#ffa45b 102.0px,#ff7a85 117.0px,#ff51af 132.0px,#cd38d8 148.5px,#7118f1 167.0px)"></i><i style="left:375px;background:linear-gradient(#ff9966 0.0px,#ffa55a 4.5px,#ffd22d 21.5px,#ffff03 38.5px,#fffffd 53.5px,#ffff03 68.0px,#ffd32c 84.0px,#ffa55a 100.5px,#ff7b84 115.5px,#ff50b0 131.0px,#cd38d8 147.5px,#6c17f3 167.0px)"></i><i style="left:378px;background:linear-gradient(#ff9e61 0.0px,#ffa45b 2.5px,#ffd12e 19.5px,#ffff02 37.0px,#fffffb 52.0px,#fffe01 67.0px,#ffd22d 83.0px,#ffa45b 99.5px,#ff7b85 114.5px,#ff50b0 130.0px,#cc38d8 146.5px,#6615f4 167.0px)"></i><i style="left:381px;background:linear-gradient(#ffa25d 0.0px,#ffa55a 1.0px,#ffd12e 18.0px,#ffff02 35.5px,#fffffc 51.0px,#ffff00 65.5px,#ffd32c 81.5px,#ffa55a 98.0px,#ff7b84 113.0px,#ff51af 128.5px,#ce38d7 145.0px,#6113f6 167.0px)"></i><i style="left:384px;background:linear-gradient(#ffa659 0.0px,#ffd32c 17.0px,#ffff02 34.0px,#fffffd 49.5px,#ffff01 64.0px,#ffd32c 80.0px,#ffa659 96.5px,#ff7b85 112.0px,#ff50b0 127.5px,#cd38d8 144.0px,#5c11f7 167.0px)"></i><i style="left:387px;background:linear-gradient(#ffab54 0.0px,#ffd42b 16.0px,#ffff02 32.5px,#fffffd 48.0px,#ffff02 62.5px,#ffd22d 79.0px,#ffa55a 95.5px,#ff7a85 111.0px,#fe50b0 126.5px,#cd38d8 143.0px,#5910f8 166.5px,#5710f8 167.0px)"></i><i style="left:390px;background:linear-gradient(#ffaf50 0.0px,#ffd728 15.5px,#ffff02 31.0px,#fffffe 46.5px,#ffff04 61.0px,#ffd22d 77.5px,#ffa55a 94.0px,#ff7b85 109.5px,#ff50b0 125.0px,#cc38d8 142.0px,#5810f8 165.5px,#530ff8 167.0px)"></i><i style="left:393px;background:linear-gradient(#ffb34c 0.0px,#ffd926 14.5px,#ffff03 29.5px,#fffffe 45.0px,#fffe01 60.0px,#ffd12e 76.5px,#ffa45b 93.0px,#ff7a86 108.5px,#ff50b0 124.0px,#cd38d8 140.5px,#9324e8 152.5px,#5810f8 164.5px,#4f0ef9 167.0px)"></i><i style="left:396px;background:linear-gradient(#ffb748 0.0px,#ffdb24 14.0px,#ffff04 28.0px,#fffffe 43.5px,#ffff00 58.5px,#ffd22d 75.0px,#ffa55a 91.5px,#ff7b85 107.0px,#ff50b0 122.5px,#cd38d8 139.5px,#9224e8 151.5px,#5810f8 163.5px,#4b0ef9 167.0px)"></i><i style="left:399px;background:linear-gradient(#ffbc43 0.0px,#ffdd22 13.0px,#fffe01 26.0px,#fffffe 42.0px,#ffff00 57.0px,#ffd22d 73.5px,#ffa55a 90.0px,#ff7b84 105.5px,#ff50b0 121.5px,#ce38d8 138.0px,#9424e8 150.0px,#5710f8 162.5px,#470df9 167.0px)"></i><i style="left:402px;background:linear-gradient(#ffc03f 0.0px,#ffdf20 12.0px,#ffff00 24.5px,#fffffd 40.5px,#ffff00 55.5px,#ffd22d 72.0px,#ffa55a 88.5px,#ff7c84 104.0px,#ff50b0 120.0px,#cd38d8 137.0px,#9324e8 149.0px,#5910f8 161.0px,#430cfa 167.0px)"></i><i style="left:405px;background:linear-gradient(#ffc43b 0.0px,#ffff00 23.0px,#fffffc 39.0px,#ffff00 54.0px,#ffd22d 70.5px,#ffa45b 87.5px,#ff7b85 103.0px,#fe50b1 119.0px,#ce38d7 135.5px,#9425e8 147.5px,#5810f8 160.0px,#3e0bfa 167.0px)"></i><i style="left:408px;background:linear-gradient(#ffc837 0.0px,#ffff02 21.5px,#fffffb 37.5px,#ffff00 52.5px,#ffd22d 69.0px,#ffa55a 86.0px,#ff7b85 101.5px,#ff50b0 117.5px,#cd38d8 134.5px,#9324e8 146.5px,#5710f8 159.0px,#3a0bfa 167.0px)"></i><i style="left:411px;background:linear-gradient(#ffcd32 0.0px,#ffff04 20.0px,#fffffc 35.5px,#fffe01 51.0px,#ffd22d 67.5px,#ffa55a 84.5px,#ff7b84 100.0px,#ff50b0 116.0px,#ce38d7 133.0px,#9525e7 145.0px,#5910f8 157.5px,#360afb 167.0px)"></i><i style="left:414px;background:linear-gradient(#ffd12e 0.0px,#ffff00 18.0px,#fffffe 34.0px,#ffff04 49.0px,#ffd22d 66.0px,#ffa55a 83.0px,#ff7a85 99.0px,#ff50b0 115.0px,#cd38d8 132.0px,#9424e8 144.0px,#5810f8 156.5px,#3209fb 167.0px)"></i><i style="left:417px;background:linear-gradient(#ffd52a 0.0px,#ffff00 16.5px,#fffffe 32.5px,#ffff03 47.5px,#ffd22d 64.5px,#ffa55a 81.5px,#ff7b85 97.5px,#ff50b0 113.5px,#ce38d8 130.5px,#9224e8 143.0px,#5710f8 155.5px,#2e08fb 167.0px)"></i><i style="left:420px;background:linear-gradient(#ffda25 0.0px,#ffff03 15.0px,#fffffb 31.0px,#ffff01 46.0px,#ffd22d 63.0px,#ffa55a 80.0px,#ff7b85 96.0px,#ff50b0 112.0px,#cd38d8 129.5px,#9424e8 141.5px,#5810f8 154.0px,#2a08fc 167.0px)"></i><i style="left:423px;background:linear-gradient(#ffde21 0.0px,#ffff00 13.0px,#fffffd 29.0px,#ffff00 44.5px,#ffd22d 61.5px,#ffa55a 78.5px,#ff7b84 94.5px,#fe50b1 111.0px,#cd38d8 128.0px,#9224e8 140.5px,#5710f8 153.0px,#2607fc 167.0px)"></i><i style="left:426px;background:linear-gradient(#ffe21d 0.0px,#ffff02 11.5px,#fffffe 27.5px,#ffff00 43.0px,#ffd22d 60.0px,#ffa55a 77.0px,#ff7b84 93.0px,#ff50b0 109.5px,#cc38d8 127.0px,#9324e8 139.0px,#5810f8 151.5px,#2106fc 167.0px)"></i><i style="left:429px;background:linear-gradient(#ffe718 0.0px,#ffff00 9.5px,#fffffb 25.5px,#ffff03 41.0px,#ffd32c 58.0px,#ffa55a 75.5px,#ff7b84 91.5px,#ff50b0 108.0px,#cd38d8 125.5px,#9224e8 138.0px,#5710f8 150.5px,#1d05fd 167.0px)"></i><i style="left:432px;background:linear-gradient(#ffeb14 0.0px,#ffff01 8.0px,#fffffe 24.0px,#ffff01 39.5px,#ffd32c 56.5px,#ffa55a 74.0px,#ff7b84 90.0px,#ff50b0 106.5px,#cd38d8 124.0px,#9324e8 136.5px,#5810f8 149.0px,#1905fd 167.0px)"></i><i style="left:435px;background:linear-gradient(#fff00f 0.0px,#ffff00 6.0px,#fffffc 22.5px,#ffff00 38.0px,#ffd22d 55.0px,#ffa55a 72.5px,#ff7b84 88.5px,#ff50b0 105.0px,#ce38d8 122.5px,#9424e8 135.0px,#5710f8 148.0px,#1504fd 167.0px)"></i><i style="left:438px;background:linear-gradient(#fff40b 0.0px,#ffff02 4.5px,#fffffe 20.5px,#ffff03 36.0px,#ffd22d 53.5px,#ffa55a 71.0px,#ff7b84 87.0px,#ff51af 103.5px,#cc38d8 121.5px,#9224e8 134.0px,#5810f8 146.5px,#1103fe 167.0px)"></i><i style="left:441px;background:linear-gradient(#fff906 0.0px,#ffff00 2.5px,#fffffb 19.0px,#ffff00 34.5px,#ffd22d 52.0px,#ffa55a 69.5px,#ff7b84 85.5px,#ff51af 102.0px,#cd38d8 120.0px,#9324e8 132.5px,#5910f8 145.0px,#0c02fe 167.0px)"></i><i style="left:444px;background:linear-gradient(#fffd02 0.0px,#ffff03 1.0px,#ffffff 17.0px,#ffff04 32.5px,#ffd32c 50.0px,#ffa45b 68.0px,#ff7a86 84.5px,#fe50b1 101.0px,#cd38d8 118.5px,#9424e8 131.0px,#5810f8 144.0px,#0801fe 167.0px)"></i><i style="left:447px;background:linear-gradient(#ffff11 0.0px,#fffffc 15.0px,#ffff00 31.0px,#ffd22d 48.5px,#ffa55a 66.0px,#ff7b84 82.5px,#fe50b0 99.5px,#cd38d8 117.0px,#9425e8 129.5px,#5910f8 142.5px,#2f09fb 154.5px,#0401ff 167.0px)"></i><i style="left:450px;background:linear-gradient(#ffff2e 0.0px,#fffffc 13.5px,#ffff03 29.0px,#ffd32c 46.5px,#ffa55a 64.5px,#ff7b85 81.0px,#fe50b0 98.0px,#ce38d8 115.5px,#9324e8 128.5px,#5710f8 141.5px,#2c08fb 154.0px,#0000fe 167.0px)"></i><i style="left:453px;background:linear-gradient(#ffff4b 0.0px,#ffffff 11.5px,#ffff00 27.5px,#ffd22d 45.0px,#ffa55a 63.0px,#ff7b85 79.5px,#fe50b0 96.5px,#cc38d8 114.5px,#9324e8 127.0px,#5810f8 140.0px,#2d08fb 152.5px,#0100ff 165.5px,#0000f8 167.0px)"></i><i style="left:456px;background:linear-gradient(#ffff68 0.0px,#fffffd 9.5px,#ffff02 25.5px,#ffd32c 43.0px,#ffa659 61.0px,#ff7a85 78.0px,#fe50b1 95.0px,#cc38d8 113.0px,#9324e8 125.5px,#5910f8 138.5px,#2c08fb 151.5px,#0000ff 164.5px,#0000f2 167.0px)"></i><i style="left:459px;background:linear-gradient(#ffff86 0.0px,#fffffb 7.5px,#fffe01 24.0px,#ffd22d 41.5px,#ffa55a 59.5px,#ff7b84 76.0px,#ff51af 93.0px,#cc38d8 111.5px,#9424e8 124.0px,#5910f8 137.0px,#2d08fb 150.0px,#0100ff 163.0px,#0000ec 167.0px)"></i><i style="left:462px;background:linear-gradient(#ffffa4 0.0px,#fffffc 6.0px,#ffff00 22.0px,#ffd22d 40.0px,#ffa55a 58.0px,#ff7b84 74.5px,#ff50b0 91.5px,#cc38d8 110.0px,#9224e8 123.0px,#5810f8 136.0px,#2c08fc 149.0px,#0000fe 162.0px,#0000e6 167.0px)"></i><i style="left:465px;background:linear-gradient(#ffffc2 0.0px,#fffffd 4.0px,#ffff02 20.0px,#ffd22d 38.0px,#ffa55a 56.0px,#ff7b85 73.0px,#ff50b0 90.0px,#cc38d8 108.5px,#9224e8 121.5px,#5810f8 134.5px,#2c08fb 147.5px,#0000ff 160.5px,#0000e0 167.0px)"></i><i style="left:468px;background:linear-gradient(#ffffe0 0.0px,#fffffe 2.0px,#ffff03 18.0px,#ffd32c 36.0px,#ffa55a 54.5px,#ff7a85 71.5px,#ff50b0 88.5px,#cc38d8 107.0px,#9224e8 120.0px,#5810f8 133.0px,#2d08fb 146.0px,#0000fe 159.5px,#0000da 167.0px)"></i><i style="left:471px;background:linear-gradient(#fffffa 0.0px,#ffff00 16.0px,#ffd22d 34.0px,#ffa45b 52.5px,#ff7a85 69.5px,#ff50b0 86.5px,#cd38d8 105.0px,#9324e8 118.0px,#5910f8 131.0px,#2d08fb 144.0px,#0000ff 157.5px,#0000d1 167.0px)"></i><i style="left:474px;background:linear-gradient(#ffffd5 0.0px,#ffff03 13.5px,#ffd22d 32.0px,#ffa55a 50.5px,#ff7b85 67.5px,#ff50b0 85.0px,#cd38d8 103.5px,#9424e8 116.5px,#5810f8 130.0px,#2d08fb 143.0px,#0000ff 156.5px,#0000cd 167.0px)"></i><i style="left:477px;background:linear-gradient(#ffffb0 0.0px,#ffff00 11.5px,#ffd22d 30.0px,#ffa55a 48.5px,#ff7b84 65.5px,#ff51af 83.0px,#cd38d8 102.0px,#9224e8 115.5px,#5710f8 129.0px,#2d08fb 142.0px,#0000ff 155.5px,#0000c9 167.0px)"></i><i style="left:480px;background:linear-gradient(#ffff8b 0.0px,#ffff02 9.0px,#ffd32c 27.5px,#ffa55a 46.5px,#ff7b85 64.0px,#ff50b0 81.5px,#cd38d8 100.5px,#9324e8 114.0px,#5810f8 127.5px,#2c08fb 141.0px,#0000ff 154.5px,#0000c5 167.0px)"></i><i style="left:483px;background:linear-gradient(#ffff66 0.0px,#ffff00 7.0px,#ffd22d 25.5px,#ffa55a 44.5px,#ff7b85 62.0px,#ff50b0 80.0px,#cd38d8 99.0px,#9324e8 112.5px,#5710f8 126.5px,#2c08fc 140.0px,#0000ff 153.5px,#0000c0 167.0px)"></i><i style="left:486px;background:linear-gradient(#ffff42 0.0px,#ffff00 4.5px,#ffd22d 23.5px,#ffa55a 42.5px,#ff7b84 60.0px,#ff51af 78.0px,#cd38d8 97.5px,#9424e8 111.0px,#5810f8 125.0px,#2d08fb 138.5px,#0000ff 152.5px,#0000bc 167.0px)"></i><i style="left:489px;background:linear-gradient(#ffff1e 0.0px,#ffff00 2.0px,#ffd22d 21.0px,#ffa55a 40.5px,#ff7a85 58.5px,#ff50b0 76.5px,#cd38d8 96.0px,#9424e8 109.5px,#5910f8 123.5px,#2c08fb 137.5px,#0000ff 151.5px,#0000b8 167.0px)"></i><i style="left:492px;background:linear-gradient(#fffe01 0.0px,#ffd22d 19.0px,#ffa45b 38.5px,#ff7a85 56.5px,#ff51af 74.5px,#cc38d8 94.5px,#9224e8 108.5px,#5810f8 122.5px,#2c08fc 136.5px,#0000ff 150.5px,#0000b4 167.0px)"></i><i style="left:495px;background:linear-gradient(#fff807 0.0px,#ffcf30 18.0px,#ffa55a 36.0px,#ff7b85 54.5px,#ff50b0 73.0px,#cc38d8 93.0px,#9224e8 107.0px,#5810f8 121.0px,#2d08fb 135.0px,#0000ff 149.5px,#0000b0 167.0px)"></i><i style="left:498px;background:linear-gradient(#fff30c 0.0px,#ffcc33 17.0px,#ffa55a 34.0px,#ff7b85 52.5px,#ff50b0 71.0px,#cd38d8 91.0px,#9224e8 105.5px,#5710f8 120.0px,#2c08fb 134.0px,#0000fe 148.5px,#0000ac 167.0px)"></i><i style="left:501px;background:linear-gradient(#ffed12 0.0px,#ffc936 16.0px,#ffa55a 32.0px,#ff7b85 50.5px,#ff50b0 69.5px,#cd38d8 89.5px,#9224e8 104.0px,#5810f8 118.5px,#2b08fc 133.0px,#0000fe 147.5px,#0000a8 167.0px)"></i><i style="left:504px;background:linear-gradient(#ffe718 0.0px,#ffc738 14.5px,#ffa55a 29.5px,#ff7b85 48.5px,#ff50b0 67.5px,#cc38d8 88.0px,#9224e8 102.5px,#5810f8 117.0px,#2c08fb 131.5px,#0000ff 146.0px,#0000a4 167.0px)"></i><i style="left:507px;background:linear-gradient(#ffe21d 0.0px,#ffc43b 13.5px,#ffa55a 27.5px,#ff7a85 46.5px,#ff50b0 65.5px,#cd38d8 86.0px,#9425e8 100.5px,#5810f8 115.5px,#2d08fb 130.0px,#0000ff 145.0px,#0000a0 167.0px)"></i><i style="left:510px;background:linear-gradient(#ffdc23 0.0px,#ffc13e 12.5px,#ffa55a 25.0px,#ff7b84 44.0px,#ff50b0 63.5px,#cd38d8 84.5px,#9424e8 99.0px,#5910f8 114.0px,#2c08fb 129.0px,#0000fe 144.0px,#00009c 167.0px)"></i><i style="left:513px;background:linear-gradient(#ffd728 0.0px,#ffa55a 23.0px,#ff7a85 42.5px,#ff50b0 62.0px,#cc38d8 83.0px,#9324e8 97.5px,#5910f8 112.5px,#2d08fb 127.5px,#0100ff 142.5px,#0000cd 154.5px,#000098 167.0px)"></i><i style="left:516px;background:linear-gradient(#ffd12e 0.0px,#ffa55a 20.5px,#ff7b85 40.0px,#ff50b0 60.0px,#cd38d8 81.0px,#9324e8 96.0px,#5710f8 111.5px,#2c08fc 126.5px,#0000ff 141.5px,#0000ca 154.0px,#000094 167.0px)"></i><i style="left:519px;background:linear-gradient(#ffcc33 0.0px,#ffa55a 18.0px,#ff7b85 38.0px,#ff50b0 58.0px,#cc38d8 79.5px,#9324e8 94.5px,#5710f8 110.0px,#2c08fb 125.0px,#0000fe 140.5px,#0000c8 153.5px,#000090 167.0px)"></i><i style="left:522px;background:linear-gradient(#ffc738 0.0px,#ffa55a 16.0px,#ff7a85 36.0px,#ff50b0 56.0px,#cd38d8 77.5px,#9224e8 93.0px,#5710f8 108.5px,#2d08fb 123.5px,#0000ff 139.0px,#0000c6 153.0px,#00008c 167.0px)"></i><i style="left:525px;background:linear-gradient(#ffc13e 0.0px,#ffa55a 13.5px,#ff7b85 33.5px,#ff50b0 54.0px,#cd38d8 75.5px,#9324e8 91.0px,#5710f8 107.0px,#2c08fc 122.5px,#0000ff 138.0px,#0000c3 152.5px,#000088 167.0px)"></i><i style="left:528px;background:linear-gradient(#ffbc43 0.0px,#ffa55a 11.0px,#ff7a85 31.5px,#ff50b0 52.0px,#cd38d8 74.0px,#9324e8 89.5px,#5710f8 105.5px,#2c08fc 121.0px,#0000ff 136.5px,#0000c3 151.5px,#000084 167.0px)"></i><i style="left:531px;background:linear-gradient(#ffb748 0.0px,#ffa55a 8.5px,#ff7b84 29.0px,#ff50b0 50.0px,#cd38d8 72.0px,#9424e8 87.5px,#5910f8 103.5px,#2c08fb 119.5px,#0000ff 135.5px,#0000c0 151.0px,#000080 167.0px)"></i><i style="left:534px;background:linear-gradient(#ffb24d 0.0px,#ffa55a 6.5px,#ff7b85 27.0px,#ff50b0 48.0px,#cd38d8 70.0px,#9324e8 86.0px,#5910f8 102.0px,#2c08fb 118.0px,#0000ff 134.0px,#0000be 150.5px,#00007c 167.0px)"></i><i style="left:537px;background:linear-gradient(#ffad52 0.0px,#ffa55a 4.0px,#ff7a85 25.0px,#ff50b0 46.0px,#cc38d8 68.5px,#9224e8 84.5px,#5810f8 100.5px,#2d08fb 116.5px,#0000fe 133.0px,#0000bb 150.0px,#000078 167.0px)"></i><i style="left:540px;background:linear-gradient(#ffa857 0.0px,#ffa55a 1.5px,#ff7b85 22.5px,#ff50b0 43.5px,#cd38d8 66.5px,#9324e8 82.5px,#5810f8 99.0px,#2d08fb 115.0px,#0000ff 131.5px,#0000bb 149.0px,#000074 167.0px)"></i><i style="left:543px;background:linear-gradient(#ffa35c 0.0px,#ff7a85 20.5px,#ff50b0 41.5px,#cd38d8 64.5px,#9324e8 81.0px,#5810f8 97.5px,#2c08fc 114.0px,#0000fe 130.5px,#0000b8 148.5px,#000070 167.0px)"></i><i style="left:546px;background:linear-gradient(#ff9e61 0.0px,#ff7888 19.5px,#ff50b0 39.5px,#ce38d8 62.5px,#9424e8 79.0px,#5810f8 96.0px,#2c08fc 112.5px,#0000ff 129.0px,#0000b6 148.0px,#00006c 167.0px)"></i><i style="left:549px;background:linear-gradient(#ff9966 0.0px,#ff758a 18.5px,#ff50b0 37.5px,#cc38d8 61.0px,#9324e8 77.5px,#5910f8 94.0px,#2d08fb 110.5px,#0000ff 127.5px,#0000b5 147.0px,#000069 167.0px)"></i><i style="left:552px;background:linear-gradient(#ff956a 0.0px,#ff738d 17.5px,#ff50b0 35.5px,#cd38d8 59.0px,#9424e8 75.5px,#5810f8 92.5px,#2c08fc 109.5px,#0000fe 126.5px,#0000b2 146.5px,#000065 167.0px)"></i><i style="left:555px;background:linear-gradient(#ff906f 0.0px,#ff708f 16.5px,#ff50b0 33.5px,#cd38d8 57.0px,#9324e8 74.0px,#5810f8 91.0px,#2c08fc 108.0px,#0000ff 125.0px,#0000b0 146.0px,#000061 167.0px)"></i><i style="left:558px;background:linear-gradient(#ff8c74 0.0px,#ff6e92 15.5px,#ff50b0 31.0px,#e644c4 43.0px,#cd38d8 55.0px,#9324e8 72.0px,#5810f8 89.5px,#2c08fc 106.5px,#0000ff 123.5px,#0000af 145.0px,#00005d 167.0px)"></i><i style="left:561px;background:linear-gradient(#ff8778 0.0px,#ff6c94 14.5px,#ff50b0 29.0px,#e644c4 41.0px,#cc38d8 53.5px,#9324e8 70.5px,#5710f8 88.0px,#2c08fc 105.0px,#0100ff 122.0px,#0000ad 144.5px,#000059 167.0px)"></i><i style="left:564px;background:linear-gradient(#ff837c 0.0px,#ff6a96 13.5px,#ff50b0 27.0px,#e744c4 39.0px,#cd38d8 51.5px,#9324e8 68.5px,#5810f8 86.0px,#2c08fb 103.5px,#0000ff 121.0px,#0000aa 144.0px,#000056 167.0px)"></i><i style="left:567px;background:linear-gradient(#ff7f81 0.0px,#ff6798 12.5px,#ff50b0 25.0px,#e744c4 37.0px,#cd38d8 49.5px,#9324e8 67.0px,#5810f8 84.5px,#2c08fb 102.0px,#0000ff 119.5px,#0000a9 143.0px,#000052 167.0px)"></i><i style="left:570px;background:linear-gradient(#ff7b85 0.0px,#ff50b0 23.0px,#e744c3 35.0px,#cd38d8 47.5px,#9324e8 65.0px,#5810f8 83.0px,#2c08fb 100.5px,#0000ff 118.0px,#0000c6 134.0px,#00008a 150.5px,#00004e 167.0px)"></i><i style="left:573px;background:linear-gradient(#ff7789 0.0px,#ff50b0 21.0px,#e644c4 33.5px,#cc38d8 46.0px,#9324e8 63.5px,#5810f8 81.5px,#2c08fb 99.0px,#0000fe 117.0px,#0000c3 133.5px,#000088 150.0px,#00004a 167.0px)"></i><i style="left:576px;background:linear-gradient(#ff738d 0.0px,#ff50b0 19.0px,#e644c4 31.5px,#cd38d8 44.0px,#9424e8 61.5px,#5910f8 79.5px,#2c08fb 97.5px,#0000ff 115.5px,#0000c2 132.5px,#000085 149.5px,#000047 167.0px)"></i><i style="left:579px;background:linear-gradient(#ff6f91 0.0px,#ff50b0 17.0px,#e644c4 29.5px,#cd38d8 42.0px,#9324e8 60.0px,#5810f8 78.0px,#2c08fb 96.0px,#0000ff 114.0px,#0000c1 131.5px,#000083 149.0px,#000043 167.0px)"></i><i style="left:582px;background:linear-gradient(#ff6b94 0.0px,#ff50b0 15.0px,#e744c4 27.5px,#cd38d8 40.5px,#9224e8 58.5px,#5810f8 76.5px,#2c08fb 94.5px,#0000ff 112.5px,#0000c0 130.5px,#000081 148.5px,#00003f 167.0px)"></i><i style="left:585px;background:linear-gradient(#ff6898 0.0px,#ff50b0 13.0px,#e744c3 25.5px,#cd38d8 38.5px,#9424e8 56.5px,#5810f8 75.0px,#2c08fb 93.0px,#0000fe 111.5px,#0000be 130.0px,#00007d 148.5px,#00003c 167.0px)"></i><i style="left:588px;background:linear-gradient(#ff649b 0.0px,#ff50b0 11.5px,#e644c4 24.0px,#cd38d8 37.0px,#9324e8 55.0px,#5810f8 73.5px,#2d08fb 91.5px,#0000ff 110.0px,#0000bd 129.0px,#00007a 148.0px,#000038 167.0px)"></i><i style="left:591px;background:linear-gradient(#ff619f 0.0px,#ff50b0 9.5px,#e644c4 22.5px,#cc38d8 35.5px,#9324e8 53.5px,#5810f8 72.0px,#2d08fb 90.0px,#0000ff 108.5px,#0000bc 128.0px,#000078 147.5px,#000034 167.0px)"></i><i style="left:594px;background:linear-gradient(#ff5ea2 0.0px,#ff50b0 8.0px,#e644c4 20.5px,#cd38d8 33.5px,#9324e8 52.0px,#5810f8 70.5px,#2c08fc 89.0px,#0000fe 107.5px,#0000bb 127.0px,#000076 147.0px,#000031 167.0px)"></i><i style="left:597px;background:linear-gradient(#ff5ba5 0.0px,#ff50b0 6.0px,#e644c4 19.0px,#cd38d8 32.0px,#9324e8 50.5px,#5810f8 69.0px,#2c08fb 87.5px,#0000ff 106.0px,#0000ba 126.0px,#000074 146.5px,#00002d 167.0px)"></i><i style="left:600px;background:linear-gradient(#ff58a8 0.0px,#ff50b0 4.5px,#e644c4 17.5px,#cd38d8 30.5px,#9324e8 49.0px,#5810f8 67.5px,#2c08fb 86.0px,#0000fe 105.0px,#0000b8 125.5px,#000072 146.0px,#00002a 167.0px)"></i><i style="left:603px;background:linear-gradient(#ff55ab 0.0px,#ff50b0 3.0px,#e644c4 16.0px,#cd38d8 29.0px,#9324e8 47.5px,#5910f8 66.0px,#2d08fb 84.5px,#0000ff 103.5px,#0000b7 124.5px,#00006f 145.5px,#000026 167.0px)"></i><i style="left:606px;background:linear-gradient(#ff52ae 0.0px,#ff50b0 1.5px,#e644c4 14.5px,#cd38d8 27.5px,#9324e8 46.0px,#5810f8 65.0px,#2c08fb 83.5px,#0000fe 102.5px,#0000b5 124.0px,#00006c 145.5px,#000022 167.0px)"></i><i style="left:609px;background:linear-gradient(#ff50b0 0.0px,#e644c4 13.0px,#cd38d8 26.0px,#9424e8 44.5px,#5810f8 63.5px,#2d08fb 82.0px,#0000ff 101.0px,#0000b4 123.0px,#00006a 145.0px,#00001f 167.0px)"></i><i style="left:612px;background:linear-gradient(#fc4fb2 0.0px,#e544c5 12.0px,#cd38d8 24.5px,#9324e8 43.5px,#5810f8 62.5px,#2c08fb 81.0px,#0000ff 100.0px,#0000b4 122.0px,#000068 144.5px,#00001b 167.0px)"></i><i style="left:615px;background:linear-gradient(#fa4db4 0.0px,#cd38d8 23.5px,#9324e8 42.0px,#5810f8 61.0px,#2d08fb 79.5px,#0100ff 98.5px,#0000b4 121.0px,#000066 144.0px,#000018 167.0px)"></i><i style="left:618px;background:linear-gradient(#f74cb6 0.0px,#cc38d8 22.5px,#9324e8 41.0px,#5810f8 60.0px,#2d08fb 78.5px,#0000ff 97.5px,#0000b2 120.5px,#000064 143.5px,#000014 167.0px)"></i><i style="left:621px;background:linear-gradient(#f54bb8 0.0px,#cd38d8 21.0px,#9224e8 40.0px,#5810f8 59.0px,#2c08fb 77.5px,#0000ff 96.5px,#0000b0 120.0px,#000060 143.5px,#000011 167.0px)"></i><i style="left:624px;background:linear-gradient(#f34aba 0.0px,#cd38d8 20.0px,#9224e8 39.0px,#5810f8 58.0px,#2c08fb 76.5px,#0000ff 95.5px,#0000b0 119.0px,#00005e 143.0px,#00000d 167.0px)"></i><i style="left:627px;background:linear-gradient(#f149bb 0.0px,#cd38d8 19.0px,#9224e8 38.0px,#5810f8 57.0px,#2c08fb 75.5px,#0000ff 94.5px,#0000c2 112.5px,#000085 130.5px,#000048 148.5px,#00000a 167.0px)"></i><i style="left:630px;background:linear-gradient(#f049bc 0.0px,#cd38d8 18.0px,#9324e8 37.0px,#5810f8 56.0px,#2c08fb 74.5px,#0000ff 93.5px,#0000c2 111.5px,#000084 130.0px,#000045 148.5px,#000006 167.0px)"></i><i style="left:633px;background:linear-gradient(#ee48be 0.0px,#cd38d8 17.5px,#9324e8 36.0px,#5810f8 55.0px,#2d08fb 73.5px,#0000ff 92.5px,#0000c1 111.0px,#000082 129.5px,#000043 148.0px,#000003 167.0px)"></i></div><div style="position:absolute;left:745px;top:394px;width:32px;height:167px;background:linear-gradient(#000000 0.00%,#0000ff 25.00%,#5810f8 37.50%,#cd38d8 50.00%,#ff50b0 58.75%,#ffa55a 75.00%,#ffff00 92.25%,#ffffff 100.00%)"></div>
<svg width="797" height="598" viewBox="0 0 797 598">
<rect x="81.10" y="13.50" width="635.20" height="166.50" fill="none" stroke="#000" stroke-width="1.70"/>
<line x1="81.10" y1="16.80" x2="88.90" y2="16.80" stroke="#000" stroke-width="1.60"/>
<line x1="716.30" y1="16.80" x2="708.50" y2="16.80" stroke="#000" stroke-width="1.60"/>
<text x="64.50" y="27.25" font-size="26" text-anchor="end" >2.0</text>
<line x1="81.10" y1="48.80" x2="88.90" y2="48.80" stroke="#000" stroke-width="1.60"/>
<line x1="716.30" y1="48.80" x2="708.50" y2="48.80" stroke="#000" stroke-width="1.60"/>
<text x="64.50" y="59.25" font-size="26" text-anchor="end" >1.5</text>
<line x1="81.10" y1="80.80" x2="88.90" y2="80.80" stroke="#000" stroke-width="1.60"/>
<line x1="716.30" y1="80.80" x2="708.50" y2="80.80" stroke="#000" stroke-width="1.60"/>
<text x="64.50" y="91.25" font-size="26" text-anchor="end" >1.0</text>
<line x1="81.10" y1="112.80" x2="88.90" y2="112.80" stroke="#000" stroke-width="1.60"/>
<line x1="716.30" y1="112.80" x2="708.50" y2="112.80" stroke="#000" stroke-width="1.60"/>
<text x="64.50" y="123.25" font-size="26" text-anchor="end" >0.5</text>
<line x1="81.10" y1="144.80" x2="88.90" y2="144.80" stroke="#000" stroke-width="1.60"/>
<line x1="716.30" y1="144.80" x2="708.50" y2="144.80" stroke="#000" stroke-width="1.60"/>
<text x="64.50" y="155.25" font-size="26" text-anchor="end" >0.0</text>
<line x1="81.10" y1="176.80" x2="88.90" y2="176.80" stroke="#000" stroke-width="1.60"/>
<line x1="716.30" y1="176.80" x2="708.50" y2="176.80" stroke="#000" stroke-width="1.60"/>
<text x="64.50" y="187.25" font-size="26" text-anchor="end" >-0.5</text>
<line x1="208.14" y1="13.50" x2="208.14" y2="21.30" stroke="#000" stroke-width="1.60"/>
<line x1="208.14" y1="180.00" x2="208.14" y2="172.20" stroke="#000" stroke-width="1.60"/>
<line x1="335.18" y1="13.50" x2="335.18" y2="21.30" stroke="#000" stroke-width="1.60"/>
<line x1="335.18" y1="180.00" x2="335.18" y2="172.20" stroke="#000" stroke-width="1.60"/>
<line x1="462.22" y1="13.50" x2="462.22" y2="21.30" stroke="#000" stroke-width="1.60"/>
<line x1="462.22" y1="180.00" x2="462.22" y2="172.20" stroke="#000" stroke-width="1.60"/>
<line x1="589.26" y1="13.50" x2="589.26" y2="21.30" stroke="#000" stroke-width="1.60"/>
<line x1="589.26" y1="180.00" x2="589.26" y2="172.20" stroke="#000" stroke-width="1.60"/>
<text transform="translate(21.3,96.75) rotate(-90)" font-size="26" text-anchor="middle">M-4B</text>
<polyline points="81.10,144.80 83.64,144.80 86.18,144.79 88.72,144.77 91.26,144.75 93.80,144.72 96.34,144.69 98.89,144.65 101.43,144.60 103.97,144.55 106.51,144.49 109.05,144.42 111.59,144.35 114.13,144.27 116.67,144.19 119.21,144.10 121.75,144.00 124.29,143.90 126.83,143.79 129.38,143.68 131.92,143.56 134.46,143.43 137.00,143.29 139.54,143.15 142.08,143.01 144.62,142.85 147.16,142.69 149.70,142.53 152.24,142.35 154.78,142.18 157.32,141.99 159.86,141.80 162.41,141.60 164.95,141.40 167.49,141.19 170.03,140.97 172.57,140.74 175.11,140.51 177.65,140.28 180.19,140.03 182.73,139.78 185.27,139.53 187.81,139.26 190.35,138.99 192.90,138.72 195.44,138.43 197.98,138.14 200.52,137.85 203.06,137.54 205.60,137.23 208.14,136.92 210.68,136.59 213.22,136.26 215.76,135.92 218.30,135.58 220.84,135.23 223.38,134.87 225.93,134.50 228.47,134.13 231.01,133.75 233.55,133.37 236.09,132.97 238.63,132.57 241.17,132.16 243.71,131.75 246.25,131.33 248.79,130.90 251.33,130.46 253.87,130.02 256.42,129.57 258.96,129.11 261.50,128.64 264.04,128.17 266.58,127.69 269.12,127.20 271.66,126.70 274.20,126.20 276.74,125.69 279.28,125.17 281.82,124.64 284.36,124.11 286.90,123.57 289.45,123.02 291.99,122.46 294.53,121.89 297.07,121.32 299.61,120.74 302.15,120.15 304.69,119.55 307.23,118.95 309.77,118.33 312.31,117.71 314.85,117.08 317.39,116.44 319.94,115.80 322.48,115.14 325.02,114.48 327.56,113.81 330.10,113.13 332.64,112.44 335.18,111.74 337.72,111.03 340.26,110.32 342.80,109.59 345.34,108.86 347.88,108.12 350.42,107.37 352.97,106.61 355.51,105.84 358.05,105.07 360.59,104.28 363.13,103.49 365.67,102.68 368.21,101.87 370.75,101.04 373.29,100.21 375.83,99.37 378.37,98.52 380.91,97.66 383.46,96.79 386.00,95.91 388.54,95.02 391.08,94.12 393.62,93.21 396.16,92.29 398.70,91.36 401.24,90.42 403.78,89.47 406.32,88.51 408.86,87.54 411.40,86.56 413.94,85.57 416.49,84.57 419.03,83.56 421.57,82.54 424.11,81.51 426.65,80.46 429.19,79.41 431.73,78.34 434.27,77.27 436.81,76.18 439.35,75.09 441.89,73.98 444.43,72.86 446.98,71.73 449.52,70.59 452.06,69.43 454.60,68.27 457.14,67.09 459.68,65.91 462.22,64.71 464.76,63.50 467.30,62.27 469.84,61.04 472.38,59.79 474.92,58.54 477.46,57.27 480.01,55.98 482.55,54.69 485.09,53.38 487.63,52.06 490.17,50.73 492.71,49.39 495.25,48.03 497.79,46.66 500.33,45.28 502.87,43.88 505.41,42.48 507.95,41.06 510.50,39.62 513.04,38.17 515.58,36.71 518.12,35.24 520.66,33.75 523.20,32.25 525.74,30.74 528.28,29.21 530.82,27.67 533.36,26.11 535.90,24.54 538.44,22.96 540.98,21.36 543.53,19.75 546.07,18.13 548.61,16.49 551.15,14.83" fill="none" stroke="#000" stroke-width="3" stroke-dasharray="8 7.22" />
<rect x="745.2" y="13.50" width="31.7" height="166.50" fill="none" stroke="#000" stroke-width="1.70"/>
<text x="783.00" y="189.85" font-size="26" text-anchor="start" >0</text>
<text x="783.00" y="23.35" font-size="26" text-anchor="start" >1</text>
<rect x="81.10" y="203.90" width="635.20" height="166.50" fill="none" stroke="#000" stroke-width="1.70"/>
<line x1="81.10" y1="207.20" x2="88.90" y2="207.20" stroke="#000" stroke-width="1.60"/>
<line x1="716.30" y1="207.20" x2="708.50" y2="207.20" stroke="#000" stroke-width="1.60"/>
<text x="64.50" y="217.65" font-size="26" text-anchor="end" >2.0</text>
<line x1="81.10" y1="239.20" x2="88.90" y2="239.20" stroke="#000" stroke-width="1.60"/>
<line x1="716.30" y1="239.20" x2="708.50" y2="239.20" stroke="#000" stroke-width="1.60"/>
<text x="64.50" y="249.65" font-size="26" text-anchor="end" >1.5</text>
<line x1="81.10" y1="271.20" x2="88.90" y2="271.20" stroke="#000" stroke-width="1.60"/>
<line x1="716.30" y1="271.20" x2="708.50" y2="271.20" stroke="#000" stroke-width="1.60"/>
<text x="64.50" y="281.65" font-size="26" text-anchor="end" >1.0</text>
<line x1="81.10" y1="303.20" x2="88.90" y2="303.20" stroke="#000" stroke-width="1.60"/>
<line x1="716.30" y1="303.20" x2="708.50" y2="303.20" stroke="#000" stroke-width="1.60"/>
<text x="64.50" y="313.65" font-size="26" text-anchor="end" >0.5</text>
<line x1="81.10" y1="335.20" x2="88.90" y2="335.20" stroke="#000" stroke-width="1.60"/>
<line x1="716.30" y1="335.20" x2="708.50" y2="335.20" stroke="#000" stroke-width="1.60"/>
<text x="64.50" y="345.65" font-size="26" text-anchor="end" >0.0</text>
<line x1="81.10" y1="367.20" x2="88.90" y2="367.20" stroke="#000" stroke-width="1.60"/>
<line x1="716.30" y1="367.20" x2="708.50" y2="367.20" stroke="#000" stroke-width="1.60"/>
<text x="64.50" y="377.65" font-size="26" text-anchor="end" >-0.5</text>
<line x1="208.14" y1="203.90" x2="208.14" y2="211.70" stroke="#000" stroke-width="1.60"/>
<line x1="208.14" y1="370.40" x2="208.14" y2="362.60" stroke="#000" stroke-width="1.60"/>
<line x1="335.18" y1="203.90" x2="335.18" y2="211.70" stroke="#000" stroke-width="1.60"/>
<line x1="335.18" y1="370.40" x2="335.18" y2="362.60" stroke="#000" stroke-width="1.60"/>
<line x1="462.22" y1="203.90" x2="462.22" y2="211.70" stroke="#000" stroke-width="1.60"/>
<line x1="462.22" y1="370.40" x2="462.22" y2="362.60" stroke="#000" stroke-width="1.60"/>
<line x1="589.26" y1="203.90" x2="589.26" y2="211.70" stroke="#000" stroke-width="1.60"/>
<line x1="589.26" y1="370.40" x2="589.26" y2="362.60" stroke="#000" stroke-width="1.60"/>
<text transform="translate(21.3,287.15) rotate(-90)" font-size="26" text-anchor="middle">M-4B</text>
<polyline points="81.10,335.20 83.64,335.20 86.18,335.19 88.72,335.17 91.26,335.15 93.80,335.12 96.34,335.09 98.89,335.05 101.43,335.00 103.97,334.95 106.51,334.89 109.05,334.82 111.59,334.75 114.13,334.67 116.67,334.59 119.21,334.50 121.75,334.40 124.29,334.30 126.83,334.19 129.38,334.08 131.92,333.96 134.46,333.83 137.00,333.69 139.54,333.55 142.08,333.41 144.62,333.25 147.16,333.09 149.70,332.93 152.24,332.75 154.78,332.58 157.32,332.39 159.86,332.20 162.41,332.00 164.95,331.80 167.49,331.59 170.03,331.37 172.57,331.14 175.11,330.91 177.65,330.68 180.19,330.43 182.73,330.18 185.27,329.93 187.81,329.66 190.35,329.39 192.90,329.12 195.44,328.83 197.98,328.54 200.52,328.25 203.06,327.94 205.60,327.63 208.14,327.32 210.68,326.99 213.22,326.66 215.76,326.32 218.30,325.98 220.84,325.63 223.38,325.27 225.93,324.90 228.47,324.53 231.01,324.15 233.55,323.77 236.09,323.37 238.63,322.97 241.17,322.56 243.71,322.15 246.25,321.73 248.79,321.30 251.33,320.86 253.87,320.42 256.42,319.97 258.96,319.51 261.50,319.04 264.04,318.57 266.58,318.09 269.12,317.60 271.66,317.10 274.20,316.60 276.74,316.09 279.28,315.57 281.82,315.04 284.36,314.51 286.90,313.97 289.45,313.42 291.99,312.86 294.53,312.29 297.07,311.72 299.61,311.14 302.15,310.55 304.69,309.95 307.23,309.35 309.77,308.73 312.31,308.11 314.85,307.48 317.39,306.84 319.94,306.20 322.48,305.54 325.02,304.88 327.56,304.21 330.10,303.53 332.64,302.84 335.18,302.14 337.72,301.43 340.26,300.72 342.80,299.99 345.34,299.26 347.88,298.52 350.42,297.77 352.97,297.01 355.51,296.24 358.05,295.47 360.59,294.68 363.13,293.89 365.67,293.08 368.21,292.27 370.75,291.44 373.29,290.61 375.83,289.77 378.37,288.92 380.91,288.06 383.46,287.19 386.00,286.31 388.54,285.42 391.08,284.52 393.62,283.61 396.16,282.69 398.70,281.76 401.24,280.82 403.78,279.87 406.32,278.91 408.86,277.94 411.40,276.96 413.94,275.97 416.49,274.97 419.03,273.96 421.57,272.94 424.11,271.91 426.65,270.86 429.19,269.81 431.73,268.74 434.27,267.67 436.81,266.58 439.35,265.49 441.89,264.38 444.43,263.26 446.98,262.13 449.52,260.99 452.06,259.83 454.60,258.67 457.14,257.49 459.68,256.31 462.22,255.11 464.76,253.90 467.30,252.67 469.84,251.44 472.38,250.19 474.92,248.94 477.46,247.67 480.01,246.38 482.55,245.09 485.09,243.78 487.63,242.46 490.17,241.13 492.71,239.79 495.25,238.43 497.79,237.06 500.33,235.68 502.87,234.28 505.41,232.88 507.95,231.46 510.50,230.02 513.04,228.57 515.58,227.11 518.12,225.64 520.66,224.15 523.20,222.65 525.74,221.14 528.28,219.61 530.82,218.07 533.36,216.51 535.90,214.94 538.44,213.36 540.98,211.76 543.53,210.15 546.07,208.53 548.61,206.89 551.15,205.23" fill="none" stroke="#000" stroke-width="3" stroke-dasharray="8 7.22" />
<rect x="745.2" y="203.90" width="31.7" height="166.50" fill="none" stroke="#000" stroke-width="1.70"/>
<text x="777.00" y="380.25" font-size="26" text-anchor="start" >-1</text>
<line x1="745.20" y1="287.15" x2="756.40" y2="287.15" stroke="#000" stroke-width="1.50"/>
<line x1="765.00" y1="287.15" x2="776.90" y2="287.15" stroke="#000" stroke-width="1.50"/>
<text x="783.00" y="297.00" font-size="26" text-anchor="start" >0</text>
<text x="783.00" y="213.75" font-size="26" text-anchor="start" >1</text>
<rect x="81.10" y="394.20" width="635.20" height="166.50" fill="none" stroke="#000" stroke-width="1.70"/>
<line x1="81.10" y1="397.50" x2="88.90" y2="397.50" stroke="#000" stroke-width="1.60"/>
<line x1="716.30" y1="397.50" x2="708.50" y2="397.50" stroke="#000" stroke-width="1.60"/>
<text x="64.50" y="407.95" font-size="26" text-anchor="end" >2.0</text>
<line x1="81.10" y1="429.50" x2="88.90" y2="429.50" stroke="#000" stroke-width="1.60"/>
<line x1="716.30" y1="429.50" x2="708.50" y2="429.50" stroke="#000" stroke-width="1.60"/>
<text x="64.50" y="439.95" font-size="26" text-anchor="end" >1.5</text>
<line x1="81.10" y1="461.50" x2="88.90" y2="461.50" stroke="#000" stroke-width="1.60"/>
<line x1="716.30" y1="461.50" x2="708.50" y2="461.50" stroke="#000" stroke-width="1.60"/>
<text x="64.50" y="471.95" font-size="26" text-anchor="end" >1.0</text>
<line x1="81.10" y1="493.50" x2="88.90" y2="493.50" stroke="#000" stroke-width="1.60"/>
<line x1="716.30" y1="493.50" x2="708.50" y2="493.50" stroke="#000" stroke-width="1.60"/>
<text x="64.50" y="503.95" font-size="26" text-anchor="end" >0.5</text>
<line x1="81.10" y1="525.50" x2="88.90" y2="525.50" stroke="#000" stroke-width="1.60"/>
<line x1="716.30" y1="525.50" x2="708.50" y2="525.50" stroke="#000" stroke-width="1.60"/>
<text x="64.50" y="535.95" font-size="26" text-anchor="end" >0.0</text>
<line x1="81.10" y1="557.50" x2="88.90" y2="557.50" stroke="#000" stroke-width="1.60"/>
<line x1="716.30" y1="557.50" x2="708.50" y2="557.50" stroke="#000" stroke-width="1.60"/>
<text x="64.50" y="567.95" font-size="26" text-anchor="end" >-0.5</text>
<line x1="208.14" y1="394.20" x2="208.14" y2="402.00" stroke="#000" stroke-width="1.60"/>
<line x1="208.14" y1="560.70" x2="208.14" y2="552.90" stroke="#000" stroke-width="1.60"/>
<line x1="335.18" y1="394.20" x2="335.18" y2="402.00" stroke="#000" stroke-width="1.60"/>
<line x1="335.18" y1="560.70" x2="335.18" y2="552.90" stroke="#000" stroke-width="1.60"/>
<line x1="462.22" y1="394.20" x2="462.22" y2="402.00" stroke="#000" stroke-width="1.60"/>
<line x1="462.22" y1="560.70" x2="462.22" y2="552.90" stroke="#000" stroke-width="1.60"/>
<line x1="589.26" y1="394.20" x2="589.26" y2="402.00" stroke="#000" stroke-width="1.60"/>
<line x1="589.26" y1="560.70" x2="589.26" y2="552.90" stroke="#000" stroke-width="1.60"/>
<text transform="translate(21.3,477.45) rotate(-90)" font-size="26" text-anchor="middle">M-4B</text>
<polyline points="81.10,525.50 83.64,525.50 86.18,525.49 88.72,525.47 91.26,525.45 93.80,525.42 96.34,525.39 98.89,525.35 101.43,525.30 103.97,525.25 106.51,525.19 109.05,525.12 111.59,525.05 114.13,524.97 116.67,524.89 119.21,524.80 121.75,524.70 124.29,524.60 126.83,524.49 129.38,524.38 131.92,524.26 134.46,524.13 137.00,523.99 139.54,523.85 142.08,523.71 144.62,523.55 147.16,523.39 149.70,523.23 152.24,523.05 154.78,522.88 157.32,522.69 159.86,522.50 162.41,522.30 164.95,522.10 167.49,521.89 170.03,521.67 172.57,521.44 175.11,521.21 177.65,520.98 180.19,520.73 182.73,520.48 185.27,520.23 187.81,519.96 190.35,519.69 192.90,519.42 195.44,519.13 197.98,518.84 200.52,518.55 203.06,518.24 205.60,517.93 208.14,517.62 210.68,517.29 213.22,516.96 215.76,516.62 218.30,516.28 220.84,515.93 223.38,515.57 225.93,515.20 228.47,514.83 231.01,514.45 233.55,514.07 236.09,513.67 238.63,513.27 241.17,512.86 243.71,512.45 246.25,512.03 248.79,511.60 251.33,511.16 253.87,510.72 256.42,510.27 258.96,509.81 261.50,509.34 264.04,508.87 266.58,508.39 269.12,507.90 271.66,507.40 274.20,506.90 276.74,506.39 279.28,505.87 281.82,505.34 284.36,504.81 286.90,504.27 289.45,503.72 291.99,503.16 294.53,502.59 297.07,502.02 299.61,501.44 302.15,500.85 304.69,500.25 307.23,499.65 309.77,499.03 312.31,498.41 314.85,497.78 317.39,497.14 319.94,496.50 322.48,495.84 325.02,495.18 327.56,494.51 330.10,493.83 332.64,493.14 335.18,492.44 337.72,491.73 340.26,491.02 342.80,490.29 345.34,489.56 347.88,488.82 350.42,488.07 352.97,487.31 355.51,486.54 358.05,485.77 360.59,484.98 363.13,484.19 365.67,483.38 368.21,482.57 370.75,481.74 373.29,480.91 375.83,480.07 378.37,479.22 380.91,478.36 383.46,477.49 386.00,476.61 388.54,475.72 391.08,474.82 393.62,473.91 396.16,472.99 398.70,472.06 401.24,471.12 403.78,470.17 406.32,469.21 408.86,468.24 411.40,467.26 413.94,466.27 416.49,465.27 419.03,464.26 421.57,463.24 424.11,462.21 426.65,461.16 429.19,460.11 431.73,459.04 434.27,457.97 436.81,456.88 439.35,455.79 441.89,454.68 444.43,453.56 446.98,452.43 449.52,451.29 452.06,450.13 454.60,448.97 457.14,447.79 459.68,446.61 462.22,445.41 464.76,444.20 467.30,442.97 469.84,441.74 472.38,440.49 474.92,439.24 477.46,437.97 480.01,436.68 482.55,435.39 485.09,434.08 487.63,432.76 490.17,431.43 492.71,430.09 495.25,428.73 497.79,427.36 500.33,425.98 502.87,424.58 505.41,423.18 507.95,421.76 510.50,420.32 513.04,418.87 515.58,417.41 518.12,415.94 520.66,414.45 523.20,412.95 525.74,411.44 528.28,409.91 530.82,408.37 533.36,406.81 535.90,405.24 538.44,403.66 540.98,402.06 543.53,400.45 546.07,398.83 548.61,397.19 551.15,395.53" fill="none" stroke="#000" stroke-width="3" stroke-dasharray="8 7.22" />
<rect x="745.2" y="394.20" width="31.7" height="166.50" fill="none" stroke="#000" stroke-width="1.70"/>
<text x="783.00" y="570.55" font-size="26" text-anchor="start" >0</text>
<line x1="745.20" y1="519.08" x2="756.40" y2="519.08" stroke="#000" stroke-width="1.50"/>
<line x1="765.00" y1="519.08" x2="776.90" y2="519.08" stroke="#000" stroke-width="1.50"/>
<text x="783.00" y="528.93" font-size="26" text-anchor="start" >1</text>
<line x1="745.20" y1="477.45" x2="756.40" y2="477.45" stroke="#000" stroke-width="1.50"/>
<line x1="765.00" y1="477.45" x2="776.90" y2="477.45" stroke="#000" stroke-width="1.50"/>
<text x="783.00" y="487.30" font-size="26" text-anchor="start" >2</text>
<line x1="745.20" y1="435.83" x2="756.40" y2="435.83" stroke="#000" stroke-width="1.50"/>
<line x1="765.00" y1="435.83" x2="776.90" y2="435.83" stroke="#000" stroke-width="1.50"/>
<text x="783.00" y="445.68" font-size="26" text-anchor="start" >3</text>
<text x="783.00" y="404.05" font-size="26" text-anchor="start" >4</text>
<text x="81.60" y="579.50" font-size="26" text-anchor="middle" >0</text>
<text x="208.64" y="579.50" font-size="26" text-anchor="middle" >5</text>
<text x="335.68" y="579.50" font-size="26" text-anchor="middle" >10</text>
<text x="462.72" y="579.50" font-size="26" text-anchor="middle" >15</text>
<text x="589.76" y="579.50" font-size="26" text-anchor="middle" >20</text>
<text x="716.80" y="579.50" font-size="26" text-anchor="middle" >25</text>
<text x="384.3" y="585" font-size="26">V<tspan font-size="21" dy="6.3">0</tspan></text>
</svg>
</body></html>
